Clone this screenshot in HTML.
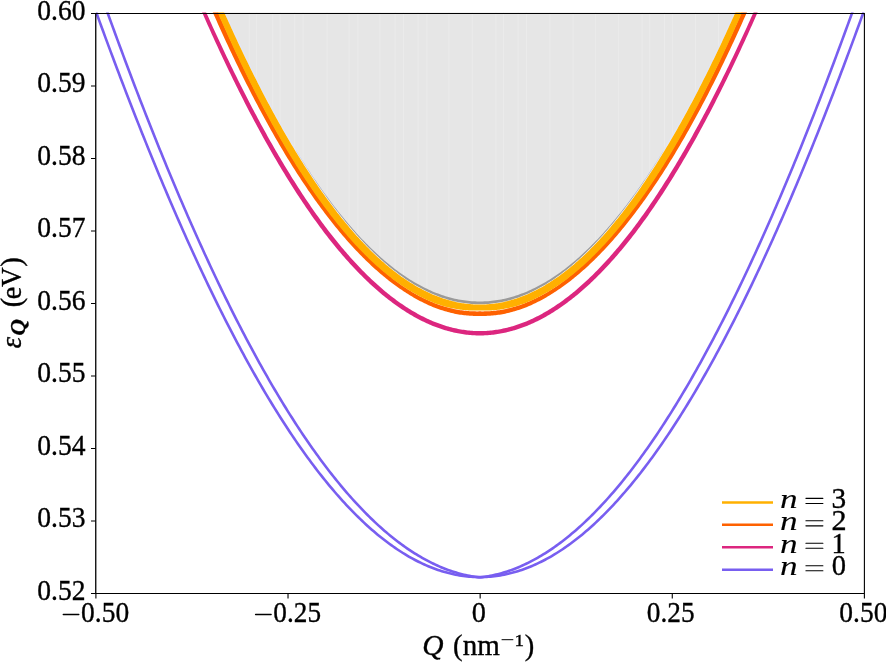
<!DOCTYPE html>
<html><head><meta charset="utf-8">
<style>
html,body{margin:0;padding:0;background:#fff;}
body{width:886px;height:662px;overflow:hidden;}
svg{display:block;}
text{font-family:"Liberation Serif",serif;fill:#000;}
</style></head>
<body>
<svg width="886" height="662" viewBox="0 0 886 662">
<defs><clipPath id="ax"><rect x="95.9" y="12.4" width="768.5" height="581"/></clipPath></defs>
<rect x="0" y="0" width="886" height="662" fill="#fff"/>
<g clip-path="url(#ax)">
<path d="M219.02,-1.23 L220.33,1.75 L221.64,4.72 L222.94,7.68 L224.25,10.62 L225.56,13.54 L226.87,16.46 L228.17,19.36 L229.48,22.24 L230.79,25.11 L232.10,27.97 L233.40,30.81 L234.71,33.64 L236.02,36.46 L237.32,39.26 L238.63,42.05 L239.94,44.82 L241.25,47.58 L242.55,50.33 L243.86,53.06 L245.17,55.78 L246.48,58.48 L247.78,61.17 L249.09,63.84 L250.40,66.50 L251.71,69.15 L253.01,71.78 L254.32,74.40 L255.63,77.00 L256.94,79.59 L258.24,82.17 L259.55,84.73 L260.86,87.27 L262.17,89.81 L263.47,92.32 L264.78,94.83 L266.09,97.32 L267.40,99.79 L268.70,102.25 L270.01,104.70 L271.32,107.13 L272.63,109.54 L273.93,111.95 L275.24,114.34 L276.55,116.71 L277.85,119.07 L279.16,121.41 L280.47,123.74 L281.78,126.06 L283.08,128.36 L284.39,130.65 L285.70,132.92 L287.01,135.17 L288.31,137.42 L289.62,139.64 L290.93,141.86 L292.24,144.06 L293.54,146.24 L294.85,148.41 L296.16,150.56 L297.47,152.70 L298.77,154.83 L300.08,156.94 L301.39,159.04 L302.70,161.12 L304.00,163.18 L305.31,165.24 L306.62,167.27 L307.93,169.29 L309.23,171.30 L310.54,173.29 L311.85,175.27 L313.15,177.23 L314.46,179.18 L315.77,181.11 L317.08,183.03 L318.38,184.94 L319.69,186.82 L321.00,188.70 L322.31,190.56 L323.61,192.40 L324.92,194.23 L326.23,196.04 L327.54,197.84 L328.84,199.62 L330.15,201.39 L331.46,203.15 L332.77,204.88 L334.07,206.61 L335.38,208.32 L336.69,210.01 L338.00,211.69 L339.30,213.35 L340.61,215.00 L341.92,216.64 L343.23,218.25 L344.53,219.86 L345.84,221.44 L347.15,223.02 L348.45,224.58 L349.76,226.12 L351.07,227.65 L352.38,229.16 L353.68,230.66 L354.99,232.14 L356.30,233.61 L357.61,235.06 L358.91,236.49 L360.22,237.92 L361.53,239.32 L362.84,240.71 L364.14,242.09 L365.45,243.45 L366.76,244.79 L368.07,246.13 L369.37,247.44 L370.68,248.74 L371.99,250.02 L373.30,251.29 L374.60,252.55 L375.91,253.79 L377.22,255.01 L378.53,256.22 L379.83,257.41 L381.14,258.59 L382.45,259.75 L383.76,260.90 L385.06,262.03 L386.37,263.14 L387.68,264.24 L388.98,265.33 L390.29,266.40 L391.60,267.45 L392.91,268.49 L394.21,269.52 L395.52,270.52 L396.83,271.52 L398.14,272.49 L399.44,273.46 L400.75,274.40 L402.06,275.34 L403.37,276.25 L404.67,277.15 L405.98,278.04 L407.29,278.91 L408.60,279.76 L409.90,280.60 L411.21,281.42 L412.52,282.23 L413.83,283.02 L415.13,283.80 L416.44,284.56 L417.75,285.31 L419.06,286.04 L420.36,286.75 L421.67,287.45 L422.98,288.14 L424.28,288.81 L425.59,289.46 L426.90,290.10 L428.21,290.72 L429.51,291.33 L430.82,291.92 L432.13,292.49 L433.44,293.05 L434.74,293.60 L436.05,294.13 L437.36,294.64 L438.67,295.14 L439.97,295.62 L441.28,296.09 L442.59,296.54 L443.90,296.97 L445.20,297.39 L446.51,297.80 L447.82,298.19 L449.13,298.56 L450.43,298.92 L451.74,299.26 L453.05,299.59 L454.36,299.90 L455.66,300.20 L456.97,300.48 L458.28,300.74 L459.59,300.99 L460.89,301.22 L462.20,301.44 L463.51,301.65 L464.81,301.83 L466.12,302.00 L467.43,302.16 L468.74,302.30 L470.04,302.42 L471.35,302.53 L472.66,302.63 L473.97,302.70 L475.27,302.77 L476.58,302.81 L477.89,302.84 L479.20,302.86 L480.50,302.86 L481.81,302.84 L483.12,302.81 L484.43,302.77 L485.73,302.70 L487.04,302.63 L488.35,302.53 L489.66,302.42 L490.96,302.30 L492.27,302.16 L493.58,302.00 L494.89,301.83 L496.19,301.65 L497.50,301.44 L498.81,301.22 L500.11,300.99 L501.42,300.74 L502.73,300.48 L504.04,300.20 L505.34,299.90 L506.65,299.59 L507.96,299.26 L509.27,298.92 L510.57,298.56 L511.88,298.19 L513.19,297.80 L514.50,297.39 L515.80,296.97 L517.11,296.54 L518.42,296.09 L519.73,295.62 L521.03,295.14 L522.34,294.64 L523.65,294.13 L524.96,293.60 L526.26,293.05 L527.57,292.49 L528.88,291.92 L530.19,291.33 L531.49,290.72 L532.80,290.10 L534.11,289.46 L535.42,288.81 L536.72,288.14 L538.03,287.45 L539.34,286.75 L540.64,286.04 L541.95,285.31 L543.26,284.56 L544.57,283.80 L545.87,283.02 L547.18,282.23 L548.49,281.42 L549.80,280.60 L551.10,279.76 L552.41,278.91 L553.72,278.04 L555.03,277.15 L556.33,276.25 L557.64,275.34 L558.95,274.40 L560.26,273.46 L561.56,272.49 L562.87,271.52 L564.18,270.52 L565.49,269.52 L566.79,268.49 L568.10,267.45 L569.41,266.40 L570.72,265.33 L572.02,264.24 L573.33,263.14 L574.64,262.03 L575.94,260.90 L577.25,259.75 L578.56,258.59 L579.87,257.41 L581.17,256.22 L582.48,255.01 L583.79,253.79 L585.10,252.55 L586.40,251.29 L587.71,250.02 L589.02,248.74 L590.33,247.44 L591.63,246.13 L592.94,244.79 L594.25,243.45 L595.56,242.09 L596.86,240.71 L598.17,239.32 L599.48,237.92 L600.79,236.49 L602.09,235.06 L603.40,233.61 L604.71,232.14 L606.02,230.66 L607.32,229.16 L608.63,227.65 L609.94,226.12 L611.25,224.58 L612.55,223.02 L613.86,221.44 L615.17,219.86 L616.47,218.25 L617.78,216.64 L619.09,215.00 L620.40,213.35 L621.70,211.69 L623.01,210.01 L624.32,208.32 L625.63,206.61 L626.93,204.88 L628.24,203.15 L629.55,201.39 L630.86,199.62 L632.16,197.84 L633.47,196.04 L634.78,194.23 L636.09,192.40 L637.39,190.56 L638.70,188.70 L640.01,186.82 L641.32,184.94 L642.62,183.03 L643.93,181.11 L645.24,179.18 L646.55,177.23 L647.85,175.27 L649.16,173.29 L650.47,171.30 L651.77,169.29 L653.08,167.27 L654.39,165.24 L655.70,163.18 L657.00,161.12 L658.31,159.04 L659.62,156.94 L660.93,154.83 L662.23,152.70 L663.54,150.56 L664.85,148.41 L666.16,146.24 L667.46,144.06 L668.77,141.86 L670.08,139.64 L671.39,137.42 L672.69,135.17 L674.00,132.92 L675.31,130.65 L676.62,128.36 L677.92,126.06 L679.23,123.74 L680.54,121.41 L681.85,119.07 L683.15,116.71 L684.46,114.34 L685.77,111.95 L687.07,109.54 L688.38,107.13 L689.69,104.70 L691.00,102.25 L692.30,99.79 L693.61,97.32 L694.92,94.83 L696.23,92.32 L697.53,89.81 L698.84,87.27 L700.15,84.73 L701.46,82.17 L702.76,79.59 L704.07,77.00 L705.38,74.40 L706.69,71.78 L707.99,69.15 L709.30,66.50 L710.61,63.84 L711.92,61.17 L713.22,58.48 L714.53,55.78 L715.84,53.06 L717.15,50.33 L718.45,47.58 L719.76,44.82 L721.07,42.05 L722.38,39.26 L723.68,36.46 L724.99,33.64 L726.30,30.81 L727.60,27.97 L728.91,25.11 L730.22,22.24 L731.53,19.36 L732.83,16.46 L734.14,13.54 L735.45,10.62 L736.76,7.68 L738.06,4.72 L739.37,1.75 L740.68,-1.23 L740.68,5.00 L219.02,5.00 Z" fill="#e6e6e6" stroke="none"/>
<path d="M249.3,12 V63.1 M256.7,12 V77.9 M272.8,12 V108.7 M280.2,12 V122.1 M294.8,12 V147.1 M303.0,12 V160.4 M327.1,12 V196.0 M349.1,12 V224.1 M357.9,12 V234.2 M379.9,12 V256.3 M395.2,12 V269.1 M403.4,12 V275.1 M418.1,12 V284.3 M426.9,12 V288.9 M448.9,12 V297.3 M472.3,12 V301.4 M495.9,12 V300.5 M503.5,12 V299.1 M518.2,12 V295.0 M526.4,12 V291.8 M549.9,12 V279.3 M573.0,12 V262.2 M595.6,12 V240.8 M618.7,12 V214.3 M642.2,12 V182.4 M649.8,12 V171.1 M664.5,12 V147.8 M672.7,12 V134.0 M695.5,12 V92.5 M718.4,12 V46.5" stroke="#ebebeb" stroke-width="1" fill="none"/>
<path d="M91.37,-1.13 L93.32,4.29 L95.27,9.68 L97.22,15.06 L99.16,20.41 L101.11,25.75 L103.06,31.06 L105.00,36.35 L106.95,41.63 L108.90,46.88 L110.85,52.11 L112.79,57.32 L114.74,62.51 L116.69,67.68 L118.63,72.83 L120.58,77.96 L122.53,83.07 L124.48,88.15 L126.42,93.21 L128.37,98.25 L130.32,103.27 L132.27,108.27 L134.21,113.24 L136.16,118.20 L138.11,123.13 L140.05,128.04 L142.00,132.92 L143.95,137.79 L145.90,142.63 L147.84,147.45 L149.79,152.24 L151.74,157.02 L153.69,161.77 L155.63,166.50 L157.58,171.20 L159.53,175.88 L161.47,180.54 L163.42,185.17 L165.37,189.78 L167.32,194.37 L169.26,198.93 L171.21,203.47 L173.16,207.99 L175.11,212.48 L177.05,216.95 L179.00,221.39 L180.95,225.81 L182.89,230.21 L184.84,234.58 L186.79,238.92 L188.74,243.25 L190.68,247.54 L192.63,251.81 L194.58,256.06 L196.52,260.28 L198.47,264.48 L200.42,268.66 L202.37,272.80 L204.31,276.92 L206.26,281.02 L208.21,285.09 L210.16,289.14 L212.10,293.16 L214.05,297.16 L216.00,301.12 L217.94,305.07 L219.89,308.99 L221.84,312.88 L223.79,316.74 L225.73,320.58 L227.68,324.40 L229.63,328.18 L231.58,331.95 L233.52,335.68 L235.47,339.39 L237.42,343.07 L239.36,346.73 L241.31,350.35 L243.26,353.96 L245.21,357.53 L247.15,361.08 L249.10,364.60 L251.05,368.10 L253.00,371.56 L254.94,375.00 L256.89,378.42 L258.84,381.80 L260.78,385.16 L262.73,388.49 L264.68,391.80 L266.63,395.07 L268.57,398.32 L270.52,401.54 L272.47,404.74 L274.41,407.90 L276.36,411.04 L278.31,414.15 L280.26,417.23 L282.20,420.29 L284.15,423.31 L286.10,426.31 L288.05,429.28 L289.99,432.22 L291.94,435.14 L293.89,438.02 L295.83,440.88 L297.78,443.71 L299.73,446.51 L301.68,449.28 L303.62,452.02 L305.57,454.74 L307.52,457.42 L309.47,460.08 L311.41,462.71 L313.36,465.31 L315.31,467.88 L317.25,470.42 L319.20,472.93 L321.15,475.41 L323.10,477.87 L325.04,480.29 L326.99,482.69 L328.94,485.06 L330.89,487.40 L332.83,489.70 L334.78,491.98 L336.73,494.23 L338.67,496.45 L340.62,498.65 L342.57,500.81 L344.52,502.94 L346.46,505.04 L348.41,507.12 L350.36,509.16 L352.31,511.17 L354.25,513.16 L356.20,515.11 L358.15,517.03 L360.09,518.93 L362.04,520.79 L363.99,522.63 L365.94,524.43 L367.88,526.21 L369.83,527.95 L371.78,529.67 L373.72,531.35 L375.67,533.01 L377.62,534.63 L379.57,536.23 L381.51,537.79 L383.46,539.33 L385.41,540.83 L387.36,542.30 L389.30,543.75 L391.25,545.16 L393.20,546.54 L395.14,547.90 L397.09,549.22 L399.04,550.51 L400.99,551.77 L402.93,553.00 L404.88,554.20 L406.83,555.37 L408.78,556.51 L410.72,557.62 L412.67,558.70 L414.62,559.74 L416.56,560.76 L418.51,561.75 L420.46,562.70 L422.41,563.63 L424.35,564.52 L426.30,565.39 L428.25,566.22 L430.20,567.02 L432.14,567.79 L434.09,568.53 L436.04,569.24 L437.98,569.92 L439.93,570.57 L441.88,571.19 L443.83,571.78 L445.77,572.33 L447.72,572.86 L449.67,573.35 L451.61,573.81 L453.56,574.25 L455.51,574.65 L457.46,575.02 L459.40,575.36 L461.35,575.67 L463.30,575.95 L465.25,576.19 L467.19,576.41 L469.14,576.60 L471.09,576.75 L473.03,576.87 L474.98,576.97 L476.93,577.03 L478.88,577.06 L480.82,577.06 L482.77,577.03 L484.72,576.97 L486.67,576.87 L488.61,576.75 L490.56,576.60 L492.51,576.41 L494.45,576.19 L496.40,575.95 L498.35,575.67 L500.30,575.36 L502.24,575.02 L504.19,574.65 L506.14,574.25 L508.09,573.81 L510.03,573.35 L511.98,572.86 L513.93,572.33 L515.87,571.78 L517.82,571.19 L519.77,570.57 L521.72,569.92 L523.66,569.24 L525.61,568.53 L527.56,567.79 L529.50,567.02 L531.45,566.22 L533.40,565.39 L535.35,564.52 L537.29,563.63 L539.24,562.70 L541.19,561.75 L543.14,560.76 L545.08,559.74 L547.03,558.70 L548.98,557.62 L550.92,556.51 L552.87,555.37 L554.82,554.20 L556.77,553.00 L558.71,551.77 L560.66,550.51 L562.61,549.22 L564.56,547.90 L566.50,546.54 L568.45,545.16 L570.40,543.75 L572.34,542.30 L574.29,540.83 L576.24,539.33 L578.19,537.79 L580.13,536.23 L582.08,534.63 L584.03,533.01 L585.98,531.35 L587.92,529.67 L589.87,527.95 L591.82,526.21 L593.76,524.43 L595.71,522.63 L597.66,520.79 L599.61,518.93 L601.55,517.03 L603.50,515.11 L605.45,513.16 L607.39,511.17 L609.34,509.16 L611.29,507.12 L613.24,505.04 L615.18,502.94 L617.13,500.81 L619.08,498.65 L621.03,496.45 L622.97,494.23 L624.92,491.98 L626.87,489.70 L628.81,487.40 L630.76,485.06 L632.71,482.69 L634.66,480.29 L636.60,477.87 L638.55,475.41 L640.50,472.93 L642.45,470.42 L644.39,467.88 L646.34,465.31 L648.29,462.71 L650.23,460.08 L652.18,457.42 L654.13,454.74 L656.08,452.02 L658.02,449.28 L659.97,446.51 L661.92,443.71 L663.87,440.88 L665.81,438.02 L667.76,435.14 L669.71,432.22 L671.65,429.28 L673.60,426.31 L675.55,423.31 L677.50,420.29 L679.44,417.23 L681.39,414.15 L683.34,411.04 L685.29,407.90 L687.23,404.74 L689.18,401.54 L691.13,398.32 L693.07,395.07 L695.02,391.80 L696.97,388.49 L698.92,385.16 L700.86,381.80 L702.81,378.42 L704.76,375.00 L706.70,371.56 L708.65,368.10 L710.60,364.60 L712.55,361.08 L714.49,357.53 L716.44,353.96 L718.39,350.35 L720.34,346.73 L722.28,343.07 L724.23,339.39 L726.18,335.68 L728.12,331.95 L730.07,328.18 L732.02,324.40 L733.97,320.58 L735.91,316.74 L737.86,312.88 L739.81,308.99 L741.76,305.07 L743.70,301.12 L745.65,297.16 L747.60,293.16 L749.54,289.14 L751.49,285.09 L753.44,281.02 L755.39,276.92 L757.33,272.80 L759.28,268.66 L761.23,264.48 L763.18,260.28 L765.12,256.06 L767.07,251.81 L769.02,247.54 L770.96,243.25 L772.91,238.92 L774.86,234.58 L776.81,230.21 L778.75,225.81 L780.70,221.39 L782.65,216.95 L784.59,212.48 L786.54,207.99 L788.49,203.47 L790.44,198.93 L792.38,194.37 L794.33,189.78 L796.28,185.17 L798.23,180.54 L800.17,175.88 L802.12,171.20 L804.07,166.50 L806.01,161.77 L807.96,157.02 L809.91,152.24 L811.86,147.45 L813.80,142.63 L815.75,137.79 L817.70,132.92 L819.65,128.04 L821.59,123.13 L823.54,118.20 L825.49,113.24 L827.43,108.27 L829.38,103.27 L831.33,98.25 L833.28,93.21 L835.22,88.15 L837.17,83.07 L839.12,77.96 L841.07,72.83 L843.01,67.68 L844.96,62.51 L846.91,57.32 L848.85,52.11 L850.80,46.88 L852.75,41.63 L854.70,36.35 L856.64,31.06 L858.59,25.75 L860.54,20.41 L862.48,15.06 L864.43,9.68 L866.38,4.29 L868.33,-1.13" fill="none" stroke="#785ef0" stroke-width="2.6" stroke-linejoin="round"/>
<path d="M102.52,-1.28 L104.41,3.99 L106.30,9.25 L108.19,14.48 L110.08,19.70 L111.97,24.89 L113.86,30.07 L115.76,35.22 L117.65,40.36 L119.54,45.48 L121.43,50.57 L123.32,55.65 L125.21,60.71 L127.10,65.74 L129.00,70.76 L130.89,75.75 L132.78,80.73 L134.67,85.68 L136.56,90.61 L138.45,95.53 L140.34,100.42 L142.24,105.29 L144.13,110.14 L146.02,114.96 L147.91,119.77 L149.80,124.56 L151.69,129.32 L153.58,134.06 L155.48,138.78 L157.37,143.48 L159.26,148.16 L161.15,152.82 L163.04,157.45 L164.93,162.06 L166.82,166.65 L168.72,171.22 L170.61,175.76 L172.50,180.29 L174.39,184.79 L176.28,189.27 L178.17,193.72 L180.06,198.16 L181.96,202.57 L183.85,206.96 L185.74,211.32 L187.63,215.66 L189.52,219.98 L191.41,224.28 L193.30,228.55 L195.19,232.80 L197.09,237.03 L198.98,241.23 L200.87,245.41 L202.76,249.57 L204.65,253.70 L206.54,257.81 L208.43,261.90 L210.33,265.96 L212.22,270.00 L214.11,274.01 L216.00,278.00 L217.89,281.97 L219.78,285.91 L221.67,289.83 L223.57,293.73 L225.46,297.60 L227.35,301.44 L229.24,305.26 L231.13,309.06 L233.02,312.83 L234.91,316.58 L236.81,320.30 L238.70,324.00 L240.59,327.68 L242.48,331.33 L244.37,334.95 L246.26,338.55 L248.15,342.12 L250.05,345.67 L251.94,349.20 L253.83,352.70 L255.72,356.17 L257.61,359.62 L259.50,363.04 L261.39,366.44 L263.29,369.81 L265.18,373.16 L267.07,376.48 L268.96,379.78 L270.85,383.05 L272.74,386.29 L274.63,389.51 L276.52,392.70 L278.42,395.87 L280.31,399.01 L282.20,402.13 L284.09,405.22 L285.98,408.28 L287.87,411.32 L289.76,414.33 L291.66,417.31 L293.55,420.27 L295.44,423.21 L297.33,426.11 L299.22,428.99 L301.11,431.85 L303.00,434.67 L304.90,437.47 L306.79,440.25 L308.68,442.99 L310.57,445.72 L312.46,448.41 L314.35,451.08 L316.24,453.72 L318.14,456.33 L320.03,458.92 L321.92,461.48 L323.81,464.01 L325.70,466.52 L327.59,469.00 L329.48,471.45 L331.38,473.87 L333.27,476.27 L335.16,478.64 L337.05,480.99 L338.94,483.30 L340.83,485.59 L342.72,487.85 L344.62,490.09 L346.51,492.30 L348.40,494.48 L350.29,496.63 L352.18,498.75 L354.07,500.85 L355.96,502.92 L357.85,504.96 L359.75,506.98 L361.64,508.97 L363.53,510.93 L365.42,512.86 L367.31,514.76 L369.20,516.64 L371.09,518.49 L372.99,520.31 L374.88,522.10 L376.77,523.87 L378.66,525.61 L380.55,527.31 L382.44,529.00 L384.33,530.65 L386.23,532.28 L388.12,533.87 L390.01,535.44 L391.90,536.99 L393.79,538.50 L395.68,539.99 L397.57,541.44 L399.47,542.87 L401.36,544.28 L403.25,545.65 L405.14,546.99 L407.03,548.31 L408.92,549.60 L410.81,550.86 L412.71,552.09 L414.60,553.30 L416.49,554.47 L418.38,555.62 L420.27,556.74 L422.16,557.83 L424.05,558.89 L425.95,559.93 L427.84,560.93 L429.73,561.91 L431.62,562.86 L433.51,563.78 L435.40,564.67 L437.29,565.54 L439.18,566.37 L441.08,567.18 L442.97,567.96 L444.86,568.71 L446.75,569.43 L448.64,570.12 L450.53,570.79 L452.42,571.42 L454.32,572.03 L456.21,572.61 L458.10,573.16 L459.99,573.68 L461.88,574.18 L463.77,574.64 L465.66,575.08 L467.56,575.49 L469.45,575.87 L471.34,576.22 L473.23,576.54 L475.12,576.83 L477.01,577.10 L478.90,577.34 L480.80,577.34 L482.69,577.10 L484.58,576.83 L486.47,576.54 L488.36,576.22 L490.25,575.87 L492.14,575.49 L494.04,575.08 L495.93,574.64 L497.82,574.18 L499.71,573.68 L501.60,573.16 L503.49,572.61 L505.38,572.03 L507.28,571.42 L509.17,570.79 L511.06,570.12 L512.95,569.43 L514.84,568.71 L516.73,567.96 L518.62,567.18 L520.52,566.37 L522.41,565.54 L524.30,564.67 L526.19,563.78 L528.08,562.86 L529.97,561.91 L531.86,560.93 L533.75,559.93 L535.65,558.89 L537.54,557.83 L539.43,556.74 L541.32,555.62 L543.21,554.47 L545.10,553.30 L546.99,552.09 L548.89,550.86 L550.78,549.60 L552.67,548.31 L554.56,546.99 L556.45,545.65 L558.34,544.28 L560.23,542.87 L562.13,541.44 L564.02,539.99 L565.91,538.50 L567.80,536.99 L569.69,535.44 L571.58,533.87 L573.47,532.28 L575.37,530.65 L577.26,529.00 L579.15,527.31 L581.04,525.61 L582.93,523.87 L584.82,522.10 L586.71,520.31 L588.61,518.49 L590.50,516.64 L592.39,514.76 L594.28,512.86 L596.17,510.93 L598.06,508.97 L599.95,506.98 L601.85,504.96 L603.74,502.92 L605.63,500.85 L607.52,498.75 L609.41,496.63 L611.30,494.48 L613.19,492.30 L615.08,490.09 L616.98,487.85 L618.87,485.59 L620.76,483.30 L622.65,480.99 L624.54,478.64 L626.43,476.27 L628.32,473.87 L630.22,471.45 L632.11,469.00 L634.00,466.52 L635.89,464.01 L637.78,461.48 L639.67,458.92 L641.56,456.33 L643.46,453.72 L645.35,451.08 L647.24,448.41 L649.13,445.72 L651.02,442.99 L652.91,440.25 L654.80,437.47 L656.70,434.67 L658.59,431.85 L660.48,428.99 L662.37,426.11 L664.26,423.21 L666.15,420.27 L668.04,417.31 L669.94,414.33 L671.83,411.32 L673.72,408.28 L675.61,405.22 L677.50,402.13 L679.39,399.01 L681.28,395.87 L683.18,392.70 L685.07,389.51 L686.96,386.29 L688.85,383.05 L690.74,379.78 L692.63,376.48 L694.52,373.16 L696.41,369.81 L698.31,366.44 L700.20,363.04 L702.09,359.62 L703.98,356.17 L705.87,352.70 L707.76,349.20 L709.65,345.67 L711.55,342.12 L713.44,338.55 L715.33,334.95 L717.22,331.33 L719.11,327.68 L721.00,324.00 L722.89,320.30 L724.79,316.58 L726.68,312.83 L728.57,309.06 L730.46,305.26 L732.35,301.44 L734.24,297.60 L736.13,293.73 L738.03,289.83 L739.92,285.91 L741.81,281.97 L743.70,278.00 L745.59,274.01 L747.48,270.00 L749.37,265.96 L751.27,261.90 L753.16,257.81 L755.05,253.70 L756.94,249.57 L758.83,245.41 L760.72,241.23 L762.61,237.03 L764.51,232.80 L766.40,228.55 L768.29,224.28 L770.18,219.98 L772.07,215.66 L773.96,211.32 L775.85,206.96 L777.74,202.57 L779.64,198.16 L781.53,193.72 L783.42,189.27 L785.31,184.79 L787.20,180.29 L789.09,175.76 L790.98,171.22 L792.88,166.65 L794.77,162.06 L796.66,157.45 L798.55,152.82 L800.44,148.16 L802.33,143.48 L804.22,138.78 L806.12,134.06 L808.01,129.32 L809.90,124.56 L811.79,119.77 L813.68,114.96 L815.57,110.14 L817.46,105.29 L819.36,100.42 L821.25,95.53 L823.14,90.61 L825.03,85.68 L826.92,80.73 L828.81,75.75 L830.70,70.76 L832.60,65.74 L834.49,60.71 L836.38,55.65 L838.27,50.57 L840.16,45.48 L842.05,40.36 L843.94,35.22 L845.84,30.07 L847.73,24.89 L849.62,19.70 L851.51,14.48 L853.40,9.25 L855.29,3.99 L857.18,-1.28" fill="none" stroke="#785ef0" stroke-width="2.6" stroke-linejoin="round"/>
<path d="M219.02,-1.23 L220.33,1.75 L221.64,4.72 L222.94,7.68 L224.25,10.62 L225.56,13.54 L226.87,16.46 L228.17,19.36 L229.48,22.24 L230.79,25.11 L232.10,27.97 L233.40,30.81 L234.71,33.64 L236.02,36.46 L237.32,39.26 L238.63,42.05 L239.94,44.82 L241.25,47.58 L242.55,50.33 L243.86,53.06 L245.17,55.78 L246.48,58.48 L247.78,61.17 L249.09,63.84 L250.40,66.50 L251.71,69.15 L253.01,71.78 L254.32,74.40 L255.63,77.00 L256.94,79.59 L258.24,82.17 L259.55,84.73 L260.86,87.27 L262.17,89.81 L263.47,92.32 L264.78,94.83 L266.09,97.32 L267.40,99.79 L268.70,102.25 L270.01,104.70 L271.32,107.13 L272.63,109.54 L273.93,111.95 L275.24,114.34 L276.55,116.71 L277.85,119.07 L279.16,121.41 L280.47,123.74 L281.78,126.06 L283.08,128.36 L284.39,130.65 L285.70,132.92 L287.01,135.17 L288.31,137.42 L289.62,139.64 L290.93,141.86 L292.24,144.06 L293.54,146.24 L294.85,148.41 L296.16,150.56 L297.47,152.70 L298.77,154.83 L300.08,156.94 L301.39,159.04 L302.70,161.12 L304.00,163.18 L305.31,165.24 L306.62,167.27 L307.93,169.29 L309.23,171.30 L310.54,173.29 L311.85,175.27 L313.15,177.23 L314.46,179.18 L315.77,181.11 L317.08,183.03 L318.38,184.94 L319.69,186.82 L321.00,188.70 L322.31,190.56 L323.61,192.40 L324.92,194.23 L326.23,196.04 L327.54,197.84 L328.84,199.62 L330.15,201.39 L331.46,203.15 L332.77,204.88 L334.07,206.61 L335.38,208.32 L336.69,210.01 L338.00,211.69 L339.30,213.35 L340.61,215.00 L341.92,216.64 L343.23,218.25 L344.53,219.86 L345.84,221.44 L347.15,223.02 L348.45,224.58 L349.76,226.12 L351.07,227.65 L352.38,229.16 L353.68,230.66 L354.99,232.14 L356.30,233.61 L357.61,235.06 L358.91,236.49 L360.22,237.92 L361.53,239.32 L362.84,240.71 L364.14,242.09 L365.45,243.45 L366.76,244.79 L368.07,246.13 L369.37,247.44 L370.68,248.74 L371.99,250.02 L373.30,251.29 L374.60,252.55 L375.91,253.79 L377.22,255.01 L378.53,256.22 L379.83,257.41 L381.14,258.59 L382.45,259.75 L383.76,260.90 L385.06,262.03 L386.37,263.14 L387.68,264.24 L388.98,265.33 L390.29,266.40 L391.60,267.45 L392.91,268.49 L394.21,269.52 L395.52,270.52 L396.83,271.52 L398.14,272.49 L399.44,273.46 L400.75,274.40 L402.06,275.34 L403.37,276.25 L404.67,277.15 L405.98,278.04 L407.29,278.91 L408.60,279.76 L409.90,280.60 L411.21,281.42 L412.52,282.23 L413.83,283.02 L415.13,283.80 L416.44,284.56 L417.75,285.31 L419.06,286.04 L420.36,286.75 L421.67,287.45 L422.98,288.14 L424.28,288.81 L425.59,289.46 L426.90,290.10 L428.21,290.72 L429.51,291.33 L430.82,291.92 L432.13,292.49 L433.44,293.05 L434.74,293.60 L436.05,294.13 L437.36,294.64 L438.67,295.14 L439.97,295.62 L441.28,296.09 L442.59,296.54 L443.90,296.97 L445.20,297.39 L446.51,297.80 L447.82,298.19 L449.13,298.56 L450.43,298.92 L451.74,299.26 L453.05,299.59 L454.36,299.90 L455.66,300.20 L456.97,300.48 L458.28,300.74 L459.59,300.99 L460.89,301.22 L462.20,301.44 L463.51,301.65 L464.81,301.83 L466.12,302.00 L467.43,302.16 L468.74,302.30 L470.04,302.42 L471.35,302.53 L472.66,302.63 L473.97,302.70 L475.27,302.77 L476.58,302.81 L477.89,302.84 L479.20,302.86 L480.50,302.86 L481.81,302.84 L483.12,302.81 L484.43,302.77 L485.73,302.70 L487.04,302.63 L488.35,302.53 L489.66,302.42 L490.96,302.30 L492.27,302.16 L493.58,302.00 L494.89,301.83 L496.19,301.65 L497.50,301.44 L498.81,301.22 L500.11,300.99 L501.42,300.74 L502.73,300.48 L504.04,300.20 L505.34,299.90 L506.65,299.59 L507.96,299.26 L509.27,298.92 L510.57,298.56 L511.88,298.19 L513.19,297.80 L514.50,297.39 L515.80,296.97 L517.11,296.54 L518.42,296.09 L519.73,295.62 L521.03,295.14 L522.34,294.64 L523.65,294.13 L524.96,293.60 L526.26,293.05 L527.57,292.49 L528.88,291.92 L530.19,291.33 L531.49,290.72 L532.80,290.10 L534.11,289.46 L535.42,288.81 L536.72,288.14 L538.03,287.45 L539.34,286.75 L540.64,286.04 L541.95,285.31 L543.26,284.56 L544.57,283.80 L545.87,283.02 L547.18,282.23 L548.49,281.42 L549.80,280.60 L551.10,279.76 L552.41,278.91 L553.72,278.04 L555.03,277.15 L556.33,276.25 L557.64,275.34 L558.95,274.40 L560.26,273.46 L561.56,272.49 L562.87,271.52 L564.18,270.52 L565.49,269.52 L566.79,268.49 L568.10,267.45 L569.41,266.40 L570.72,265.33 L572.02,264.24 L573.33,263.14 L574.64,262.03 L575.94,260.90 L577.25,259.75 L578.56,258.59 L579.87,257.41 L581.17,256.22 L582.48,255.01 L583.79,253.79 L585.10,252.55 L586.40,251.29 L587.71,250.02 L589.02,248.74 L590.33,247.44 L591.63,246.13 L592.94,244.79 L594.25,243.45 L595.56,242.09 L596.86,240.71 L598.17,239.32 L599.48,237.92 L600.79,236.49 L602.09,235.06 L603.40,233.61 L604.71,232.14 L606.02,230.66 L607.32,229.16 L608.63,227.65 L609.94,226.12 L611.25,224.58 L612.55,223.02 L613.86,221.44 L615.17,219.86 L616.47,218.25 L617.78,216.64 L619.09,215.00 L620.40,213.35 L621.70,211.69 L623.01,210.01 L624.32,208.32 L625.63,206.61 L626.93,204.88 L628.24,203.15 L629.55,201.39 L630.86,199.62 L632.16,197.84 L633.47,196.04 L634.78,194.23 L636.09,192.40 L637.39,190.56 L638.70,188.70 L640.01,186.82 L641.32,184.94 L642.62,183.03 L643.93,181.11 L645.24,179.18 L646.55,177.23 L647.85,175.27 L649.16,173.29 L650.47,171.30 L651.77,169.29 L653.08,167.27 L654.39,165.24 L655.70,163.18 L657.00,161.12 L658.31,159.04 L659.62,156.94 L660.93,154.83 L662.23,152.70 L663.54,150.56 L664.85,148.41 L666.16,146.24 L667.46,144.06 L668.77,141.86 L670.08,139.64 L671.39,137.42 L672.69,135.17 L674.00,132.92 L675.31,130.65 L676.62,128.36 L677.92,126.06 L679.23,123.74 L680.54,121.41 L681.85,119.07 L683.15,116.71 L684.46,114.34 L685.77,111.95 L687.07,109.54 L688.38,107.13 L689.69,104.70 L691.00,102.25 L692.30,99.79 L693.61,97.32 L694.92,94.83 L696.23,92.32 L697.53,89.81 L698.84,87.27 L700.15,84.73 L701.46,82.17 L702.76,79.59 L704.07,77.00 L705.38,74.40 L706.69,71.78 L707.99,69.15 L709.30,66.50 L710.61,63.84 L711.92,61.17 L713.22,58.48 L714.53,55.78 L715.84,53.06 L717.15,50.33 L718.45,47.58 L719.76,44.82 L721.07,42.05 L722.38,39.26 L723.68,36.46 L724.99,33.64 L726.30,30.81 L727.60,27.97 L728.91,25.11 L730.22,22.24 L731.53,19.36 L732.83,16.46 L734.14,13.54 L735.45,10.62 L736.76,7.68 L738.06,4.72 L739.37,1.75 L740.68,-1.23" fill="none" stroke="#e1e6f4" stroke-width="1.4"/>
<path d="M295.41,149.33 L297.26,152.35 L299.12,155.33 L300.97,158.29 L302.82,161.21 L304.68,164.11 L306.53,166.97 L308.39,169.81 L310.24,172.62 L312.09,175.40 L313.95,178.15 L315.80,180.87 L317.65,183.56 L319.51,186.22 L321.36,188.85 L323.22,191.45 L325.07,194.02 L326.92,196.56 L328.78,199.07 L330.63,201.55 L332.48,204.00 L334.34,206.43 L336.19,208.82 L338.04,211.18 L339.90,213.51 L341.75,215.81 L343.61,218.08 L345.46,220.33 L347.31,222.54 L349.17,224.72 L351.02,226.87 L352.87,228.99 L354.73,231.08 L356.58,233.14 L358.43,235.18 L360.29,237.18 L362.14,239.15 L364.00,241.09 L365.85,243.00 L367.70,244.87 L369.56,246.72 L371.41,248.54 L373.26,250.33 L375.12,252.09 L376.97,253.81 L378.83,255.51 L380.68,257.18 L382.53,258.81 L384.39,260.42 L386.24,261.99 L388.09,263.54 L389.95,265.05 L391.80,266.53 L393.65,267.99 L395.51,269.41 L397.36,270.80 L399.22,272.16 L401.07,273.49 L402.92,274.79 L404.78,276.05 L406.63,277.29 L408.48,278.50 L410.34,279.67 L412.19,280.82 L414.04,281.93 L415.90,283.02 L417.75,284.07 L419.61,285.09 L421.46,286.08 L423.31,287.04 L425.17,287.97 L427.02,288.87 L428.87,289.74 L430.73,290.57 L432.58,291.38 L434.44,292.15 L436.29,292.90 L438.14,293.61 L440.00,294.29 L441.85,294.94 L443.70,295.56 L445.56,296.15 L447.41,296.71 L449.26,297.24 L451.12,297.74 L452.97,298.20 L454.83,298.63 L456.68,299.04 L458.53,299.41 L460.39,299.75 L462.24,300.06 L464.09,300.34 L465.95,300.59 L467.80,300.81 L469.65,300.99 L471.51,301.15 L473.36,301.27 L475.22,301.36 L477.07,301.43 L478.92,301.46 L480.78,301.46 L482.63,301.43 L484.48,301.36 L486.34,301.27 L488.19,301.15 L490.05,300.99 L491.90,300.81 L493.75,300.59 L495.61,300.34 L497.46,300.06 L499.31,299.75 L501.17,299.41 L503.02,299.04 L504.87,298.63 L506.73,298.20 L508.58,297.74 L510.44,297.24 L512.29,296.71 L514.14,296.15 L516.00,295.56 L517.85,294.94 L519.70,294.29 L521.56,293.61 L523.41,292.90 L525.26,292.15 L527.12,291.38 L528.97,290.57 L530.83,289.74 L532.68,288.87 L534.53,287.97 L536.39,287.04 L538.24,286.08 L540.09,285.09 L541.95,284.07 L543.80,283.02 L545.66,281.93 L547.51,280.82 L549.36,279.67 L551.22,278.50 L553.07,277.29 L554.92,276.05 L556.78,274.79 L558.63,273.49 L560.48,272.16 L562.34,270.80 L564.19,269.41 L566.05,267.99 L567.90,266.53 L569.75,265.05 L571.61,263.54 L573.46,261.99 L575.31,260.42 L577.17,258.81 L579.02,257.18 L580.87,255.51 L582.73,253.81 L584.58,252.09 L586.44,250.33 L588.29,248.54 L590.14,246.72 L592.00,244.87 L593.85,243.00 L595.70,241.09 L597.56,239.15 L599.41,237.18 L601.27,235.18 L603.12,233.14 L604.97,231.08 L606.83,228.99 L608.68,226.87 L610.53,224.72 L612.39,222.54 L614.24,220.33 L616.09,218.08 L617.95,215.81 L619.80,213.51 L621.66,211.18 L623.51,208.82 L625.36,206.43 L627.22,204.00 L629.07,201.55 L630.92,199.07 L632.78,196.56 L634.63,194.02 L636.48,191.45 L638.34,188.85 L640.19,186.22 L642.05,183.56 L643.90,180.87 L645.75,178.15 L647.61,175.40 L649.46,172.62 L651.31,169.81 L653.17,166.97 L655.02,164.11 L656.88,161.21 L658.73,158.29 L660.58,155.33 L662.44,152.35 L664.29,149.33 L664.29,149.33 L662.44,152.40 L660.58,155.44 L658.73,158.45 L656.88,161.43 L655.02,164.38 L653.17,167.30 L651.31,170.19 L649.46,173.05 L647.61,175.88 L645.75,178.68 L643.90,181.45 L642.05,184.19 L640.19,186.90 L638.34,189.58 L636.48,192.23 L634.63,194.85 L632.78,197.43 L630.92,199.99 L629.07,202.52 L627.22,205.02 L625.36,207.48 L623.51,209.92 L621.66,212.32 L619.80,214.70 L617.95,217.04 L616.09,219.36 L614.24,221.64 L612.39,223.89 L610.53,226.11 L608.68,228.31 L606.83,230.47 L604.97,232.60 L603.12,234.69 L601.27,236.76 L599.41,238.80 L597.56,240.81 L595.70,242.78 L593.85,244.73 L592.00,246.64 L590.14,248.52 L588.29,250.37 L586.44,252.19 L584.58,253.98 L582.73,255.74 L580.87,257.47 L579.02,259.17 L577.17,260.83 L575.31,262.47 L573.46,264.07 L571.61,265.64 L569.75,267.18 L567.90,268.69 L566.05,270.17 L564.19,271.62 L562.34,273.04 L560.48,274.42 L558.63,275.78 L556.78,277.10 L554.92,278.39 L553.07,279.65 L551.22,280.88 L549.36,282.08 L547.51,283.24 L545.66,284.38 L543.80,285.48 L541.95,286.55 L540.09,287.59 L538.24,288.60 L536.39,289.58 L534.53,290.53 L532.68,291.44 L530.83,292.32 L528.97,293.18 L527.12,294.00 L525.26,294.78 L523.41,295.54 L521.56,296.27 L519.70,296.96 L517.85,297.63 L516.00,298.26 L514.14,298.86 L512.29,299.43 L510.44,299.96 L508.58,300.47 L506.73,300.94 L504.87,301.38 L503.02,301.79 L501.17,302.17 L499.31,302.52 L497.46,302.84 L495.61,303.12 L493.75,303.37 L491.90,303.59 L490.05,303.78 L488.19,303.94 L486.34,304.07 L484.48,304.16 L482.63,304.23 L480.78,304.26 L478.92,304.26 L477.07,304.23 L475.22,304.16 L473.36,304.07 L471.51,303.94 L469.65,303.78 L467.80,303.59 L465.95,303.37 L464.09,303.12 L462.24,302.84 L460.39,302.52 L458.53,302.17 L456.68,301.79 L454.83,301.38 L452.97,300.94 L451.12,300.47 L449.26,299.96 L447.41,299.43 L445.56,298.86 L443.70,298.26 L441.85,297.63 L440.00,296.96 L438.14,296.27 L436.29,295.54 L434.44,294.78 L432.58,294.00 L430.73,293.18 L428.87,292.32 L427.02,291.44 L425.17,290.53 L423.31,289.58 L421.46,288.60 L419.61,287.59 L417.75,286.55 L415.90,285.48 L414.04,284.38 L412.19,283.24 L410.34,282.08 L408.48,280.88 L406.63,279.65 L404.78,278.39 L402.92,277.10 L401.07,275.78 L399.22,274.42 L397.36,273.04 L395.51,271.62 L393.65,270.17 L391.80,268.69 L389.95,267.18 L388.09,265.64 L386.24,264.07 L384.39,262.47 L382.53,260.83 L380.68,259.17 L378.83,257.47 L376.97,255.74 L375.12,253.98 L373.26,252.19 L371.41,250.37 L369.56,248.52 L367.70,246.64 L365.85,244.73 L364.00,242.78 L362.14,240.81 L360.29,238.80 L358.43,236.76 L356.58,234.69 L354.73,232.60 L352.87,230.47 L351.02,228.31 L349.17,226.11 L347.31,223.89 L345.46,221.64 L343.61,219.36 L341.75,217.04 L339.90,214.70 L338.04,212.32 L336.19,209.92 L334.34,207.48 L332.48,205.02 L330.63,202.52 L328.78,199.99 L326.92,197.43 L325.07,194.85 L323.22,192.23 L321.36,189.58 L319.51,186.90 L317.65,184.19 L315.80,181.45 L313.95,178.68 L312.09,175.88 L310.24,173.05 L308.39,170.19 L306.53,167.30 L304.68,164.38 L302.82,161.43 L300.97,158.45 L299.12,155.44 L297.26,152.40 L295.41,149.33 Z" fill="#9a9a9a" stroke="none"/>
<path d="M196.27,-1.00 L197.69,2.30 L199.12,5.57 L200.54,8.84 L201.96,12.08 L203.38,15.31 L204.80,18.53 L206.22,21.74 L207.64,24.93 L209.07,28.11 L210.49,31.26 L211.91,34.41 L213.33,37.54 L214.75,40.65 L216.17,43.75 L217.60,46.83 L219.02,49.89 L220.44,52.95 L221.86,55.98 L223.28,59.00 L224.70,62.00 L226.12,64.99 L227.55,67.96 L228.97,70.92 L230.39,73.86 L231.81,76.79 L233.23,79.70 L234.65,82.59 L236.07,85.47 L237.50,88.33 L238.92,91.18 L240.34,94.01 L241.76,96.82 L243.18,99.62 L244.60,102.41 L246.02,105.17 L247.45,107.92 L248.87,110.66 L250.29,113.38 L251.71,116.08 L253.13,118.77 L254.55,121.45 L255.97,124.10 L257.40,126.74 L258.82,129.37 L260.24,131.97 L261.66,134.57 L263.08,137.14 L264.50,139.70 L265.92,142.25 L267.35,144.78 L268.77,147.29 L270.19,149.79 L271.61,152.27 L273.03,154.73 L274.45,157.18 L275.87,159.61 L277.30,162.02 L278.72,164.42 L280.14,166.81 L281.56,169.18 L282.98,171.53 L284.40,173.86 L285.82,176.18 L287.25,178.48 L288.67,180.77 L290.09,183.04 L291.51,185.29 L292.93,187.53 L294.35,189.75 L295.77,191.96 L297.20,194.15 L298.62,196.32 L300.04,198.47 L301.46,200.61 L302.88,202.74 L304.30,204.85 L305.72,206.94 L307.15,209.01 L308.57,211.07 L309.99,213.11 L311.41,215.14 L312.83,217.15 L314.25,219.14 L315.67,221.11 L317.10,223.07 L318.52,225.02 L319.94,226.94 L321.36,228.85 L322.78,230.75 L324.20,232.63 L325.62,234.49 L327.05,236.33 L328.47,238.14 L329.89,239.94 L331.31,241.73 L332.73,243.50 L334.15,245.25 L335.57,246.98 L337.00,248.70 L338.42,250.40 L339.84,252.09 L341.26,253.76 L342.68,255.41 L344.10,257.04 L345.52,258.66 L346.95,260.26 L348.37,261.85 L349.79,263.42 L351.21,264.97 L352.63,266.51 L354.05,268.03 L355.47,269.53 L356.90,271.01 L358.32,272.48 L359.74,273.94 L361.16,275.37 L362.58,276.79 L364.00,278.19 L365.42,279.58 L366.85,280.94 L368.27,282.29 L369.69,283.63 L371.11,284.95 L372.53,286.25 L373.95,287.53 L375.37,288.80 L376.80,290.05 L378.22,291.28 L379.64,292.50 L381.06,293.69 L382.48,294.88 L383.90,296.04 L385.32,297.19 L386.75,298.33 L388.17,299.44 L389.59,300.54 L391.01,301.62 L392.43,302.69 L393.85,303.74 L395.27,304.77 L396.70,305.78 L398.12,306.78 L399.54,307.76 L400.96,308.73 L402.38,309.67 L403.80,310.60 L405.22,311.52 L406.65,312.41 L408.07,313.29 L409.49,314.15 L410.91,314.99 L412.33,315.82 L413.75,316.63 L415.17,317.43 L416.60,318.20 L418.02,318.96 L419.44,319.71 L420.86,320.43 L422.28,321.14 L423.70,321.83 L425.12,322.51 L426.55,323.17 L427.97,323.81 L429.39,324.44 L430.81,325.04 L432.23,325.63 L433.65,326.21 L435.07,326.77 L436.50,327.31 L437.92,327.83 L439.34,328.33 L440.76,328.82 L442.18,329.29 L443.60,329.74 L445.02,330.18 L446.45,330.59 L447.87,330.99 L449.29,331.37 L450.71,331.74 L452.13,332.09 L453.55,332.42 L454.97,332.73 L456.40,333.03 L457.82,333.31 L459.24,333.57 L460.66,333.82 L462.08,334.05 L463.50,334.26 L464.92,334.46 L466.35,334.63 L467.77,334.80 L469.19,334.94 L470.61,335.07 L472.03,335.18 L473.45,335.27 L474.87,335.35 L476.30,335.41 L477.72,335.45 L479.14,335.48 L480.56,335.48 L481.98,335.45 L483.40,335.41 L484.83,335.35 L486.25,335.27 L487.67,335.18 L489.09,335.07 L490.51,334.94 L491.93,334.80 L493.35,334.63 L494.78,334.46 L496.20,334.26 L497.62,334.05 L499.04,333.82 L500.46,333.57 L501.88,333.31 L503.30,333.03 L504.73,332.73 L506.15,332.42 L507.57,332.09 L508.99,331.74 L510.41,331.37 L511.83,330.99 L513.25,330.59 L514.68,330.18 L516.10,329.74 L517.52,329.29 L518.94,328.82 L520.36,328.33 L521.78,327.83 L523.20,327.31 L524.63,326.77 L526.05,326.21 L527.47,325.63 L528.89,325.04 L530.31,324.44 L531.73,323.81 L533.15,323.17 L534.58,322.51 L536.00,321.83 L537.42,321.14 L538.84,320.43 L540.26,319.71 L541.68,318.96 L543.10,318.20 L544.53,317.43 L545.95,316.63 L547.37,315.82 L548.79,314.99 L550.21,314.15 L551.63,313.29 L553.05,312.41 L554.48,311.52 L555.90,310.60 L557.32,309.67 L558.74,308.73 L560.16,307.76 L561.58,306.78 L563.00,305.78 L564.43,304.77 L565.85,303.74 L567.27,302.69 L568.69,301.62 L570.11,300.54 L571.53,299.44 L572.95,298.33 L574.38,297.19 L575.80,296.04 L577.22,294.88 L578.64,293.69 L580.06,292.50 L581.48,291.28 L582.90,290.05 L584.33,288.80 L585.75,287.53 L587.17,286.25 L588.59,284.95 L590.01,283.63 L591.43,282.29 L592.85,280.94 L594.28,279.58 L595.70,278.19 L597.12,276.79 L598.54,275.37 L599.96,273.94 L601.38,272.48 L602.80,271.01 L604.23,269.53 L605.65,268.03 L607.07,266.51 L608.49,264.97 L609.91,263.42 L611.33,261.85 L612.75,260.26 L614.18,258.66 L615.60,257.04 L617.02,255.41 L618.44,253.76 L619.86,252.09 L621.28,250.40 L622.70,248.70 L624.13,246.98 L625.55,245.25 L626.97,243.50 L628.39,241.73 L629.81,239.94 L631.23,238.14 L632.65,236.33 L634.08,234.49 L635.50,232.63 L636.92,230.75 L638.34,228.85 L639.76,226.94 L641.18,225.02 L642.60,223.07 L644.03,221.11 L645.45,219.14 L646.87,217.15 L648.29,215.14 L649.71,213.11 L651.13,211.07 L652.55,209.01 L653.98,206.94 L655.40,204.85 L656.82,202.74 L658.24,200.61 L659.66,198.47 L661.08,196.32 L662.50,194.15 L663.93,191.96 L665.35,189.75 L666.77,187.53 L668.19,185.29 L669.61,183.04 L671.03,180.77 L672.45,178.48 L673.88,176.18 L675.30,173.86 L676.72,171.53 L678.14,169.18 L679.56,166.81 L680.98,164.42 L682.40,162.02 L683.83,159.61 L685.25,157.18 L686.67,154.73 L688.09,152.27 L689.51,149.79 L690.93,147.29 L692.35,144.78 L693.78,142.25 L695.20,139.70 L696.62,137.14 L698.04,134.57 L699.46,131.97 L700.88,129.37 L702.30,126.74 L703.73,124.10 L705.15,121.45 L706.57,118.77 L707.99,116.08 L709.41,113.38 L710.83,110.66 L712.25,107.92 L713.68,105.17 L715.10,102.41 L716.52,99.62 L717.94,96.82 L719.36,94.01 L720.78,91.18 L722.20,88.33 L723.63,85.47 L725.05,82.59 L726.47,79.70 L727.89,76.79 L729.31,73.86 L730.73,70.92 L732.15,67.96 L733.58,64.99 L735.00,62.00 L736.42,59.00 L737.84,55.98 L739.26,52.95 L740.68,49.89 L742.10,46.83 L743.53,43.75 L744.95,40.65 L746.37,37.54 L747.79,34.41 L749.21,31.26 L750.63,28.11 L752.06,24.93 L753.48,21.74 L754.90,18.53 L756.32,15.31 L757.74,12.08 L759.16,8.84 L760.58,5.57 L762.01,2.30 L763.43,-1.00 L759.43,-1.03 L758.03,2.15 L756.63,5.32 L755.23,8.48 L753.82,11.62 L752.42,14.75 L751.02,17.87 L749.62,20.98 L748.22,24.07 L746.82,27.15 L745.42,30.21 L744.01,33.26 L742.61,36.30 L741.21,39.32 L739.81,42.33 L738.41,45.33 L737.01,48.31 L735.61,51.27 L734.21,54.23 L732.80,57.17 L731.40,60.09 L730.00,63.00 L728.60,65.90 L727.20,68.78 L725.80,71.65 L724.40,74.50 L722.99,77.34 L721.59,80.17 L720.19,82.98 L718.79,85.77 L717.39,88.56 L715.99,91.32 L714.59,94.08 L713.18,96.82 L711.78,99.54 L710.38,102.25 L708.98,104.95 L707.58,107.63 L706.18,110.29 L704.78,112.94 L703.37,115.58 L701.97,118.20 L700.57,120.81 L699.17,123.40 L697.77,125.98 L696.37,128.54 L694.97,131.09 L693.56,133.62 L692.16,136.14 L690.76,138.64 L689.36,141.13 L687.96,143.60 L686.56,146.06 L685.16,148.50 L683.75,150.93 L682.35,153.34 L680.95,155.74 L679.55,158.12 L678.15,160.49 L676.75,162.84 L675.35,165.18 L673.94,167.50 L672.54,169.81 L671.14,172.10 L669.74,174.37 L668.34,176.63 L666.94,178.88 L665.54,181.10 L664.13,183.32 L662.73,185.52 L661.33,187.70 L659.93,189.87 L658.53,192.02 L657.13,194.15 L655.73,196.27 L654.32,198.38 L652.92,200.47 L651.52,202.54 L650.12,204.60 L648.72,206.64 L647.32,208.67 L645.92,210.68 L644.52,212.67 L643.11,214.65 L641.71,216.61 L640.31,218.56 L638.91,220.49 L637.51,222.41 L636.11,224.31 L634.71,226.19 L633.30,228.06 L631.90,229.90 L630.50,231.72 L629.10,233.53 L627.70,235.32 L626.30,237.10 L624.90,238.86 L623.49,240.61 L622.09,242.34 L620.69,244.05 L619.29,245.75 L617.89,247.43 L616.49,249.09 L615.09,250.74 L613.68,252.37 L612.28,253.99 L610.88,255.59 L609.48,257.17 L608.08,258.74 L606.68,260.29 L605.28,261.82 L603.87,263.34 L602.47,264.84 L601.07,266.33 L599.67,267.79 L598.27,269.25 L596.87,270.68 L595.47,272.10 L594.06,273.50 L592.66,274.89 L591.26,276.26 L589.86,277.61 L588.46,278.94 L587.06,280.26 L585.66,281.57 L584.25,282.85 L582.85,284.12 L581.45,285.37 L580.05,286.61 L578.65,287.83 L577.25,289.03 L575.85,290.22 L574.44,291.39 L573.04,292.54 L571.64,293.68 L570.24,294.80 L568.84,295.90 L567.44,296.99 L566.04,298.05 L564.64,299.11 L563.23,300.14 L561.83,301.16 L560.43,302.17 L559.03,303.15 L557.63,304.12 L556.23,305.07 L554.83,306.01 L553.42,306.92 L552.02,307.82 L550.62,308.71 L549.22,309.57 L547.82,310.42 L546.42,311.25 L545.02,312.07 L543.61,312.87 L542.21,313.65 L540.81,314.42 L539.41,315.17 L538.01,315.90 L536.61,316.61 L535.21,317.31 L533.80,317.99 L532.40,318.65 L531.00,319.30 L529.60,319.93 L528.20,320.54 L526.80,321.14 L525.40,321.72 L523.99,322.28 L522.59,322.82 L521.19,323.35 L519.79,323.86 L518.39,324.36 L516.99,324.83 L515.59,325.28 L514.18,325.72 L512.78,326.14 L511.38,326.55 L509.98,326.93 L508.58,327.30 L507.18,327.66 L505.78,327.99 L504.37,328.31 L502.97,328.61 L501.57,328.90 L500.17,329.16 L498.77,329.41 L497.37,329.65 L495.97,329.86 L494.56,330.06 L493.16,330.24 L491.76,330.41 L490.36,330.56 L488.96,330.69 L487.56,330.80 L486.16,330.90 L484.75,330.98 L483.35,331.04 L481.95,331.09 L480.55,331.11 L479.15,331.11 L477.75,331.09 L476.35,331.04 L474.95,330.98 L473.54,330.90 L472.14,330.80 L470.74,330.69 L469.34,330.56 L467.94,330.41 L466.54,330.24 L465.14,330.06 L463.73,329.86 L462.33,329.65 L460.93,329.41 L459.53,329.16 L458.13,328.90 L456.73,328.61 L455.33,328.31 L453.92,327.99 L452.52,327.66 L451.12,327.30 L449.72,326.93 L448.32,326.55 L446.92,326.14 L445.52,325.72 L444.11,325.28 L442.71,324.83 L441.31,324.36 L439.91,323.86 L438.51,323.35 L437.11,322.82 L435.71,322.28 L434.30,321.72 L432.90,321.14 L431.50,320.54 L430.10,319.93 L428.70,319.30 L427.30,318.65 L425.90,317.99 L424.49,317.31 L423.09,316.61 L421.69,315.90 L420.29,315.17 L418.89,314.42 L417.49,313.65 L416.09,312.87 L414.68,312.07 L413.28,311.25 L411.88,310.42 L410.48,309.57 L409.08,308.71 L407.68,307.82 L406.28,306.92 L404.87,306.01 L403.47,305.07 L402.07,304.12 L400.67,303.15 L399.27,302.17 L397.87,301.16 L396.47,300.14 L395.06,299.11 L393.66,298.05 L392.26,296.99 L390.86,295.90 L389.46,294.80 L388.06,293.68 L386.66,292.54 L385.26,291.39 L383.85,290.22 L382.45,289.03 L381.05,287.83 L379.65,286.61 L378.25,285.37 L376.85,284.12 L375.45,282.85 L374.04,281.57 L372.64,280.26 L371.24,278.94 L369.84,277.61 L368.44,276.26 L367.04,274.89 L365.64,273.50 L364.23,272.10 L362.83,270.68 L361.43,269.25 L360.03,267.79 L358.63,266.33 L357.23,264.84 L355.83,263.34 L354.42,261.82 L353.02,260.29 L351.62,258.74 L350.22,257.17 L348.82,255.59 L347.42,253.99 L346.02,252.37 L344.61,250.74 L343.21,249.09 L341.81,247.43 L340.41,245.75 L339.01,244.05 L337.61,242.34 L336.21,240.61 L334.80,238.86 L333.40,237.10 L332.00,235.32 L330.60,233.53 L329.20,231.72 L327.80,229.90 L326.40,228.06 L324.99,226.19 L323.59,224.31 L322.19,222.41 L320.79,220.49 L319.39,218.56 L317.99,216.61 L316.59,214.65 L315.18,212.67 L313.78,210.68 L312.38,208.67 L310.98,206.64 L309.58,204.60 L308.18,202.54 L306.78,200.47 L305.38,198.38 L303.97,196.27 L302.57,194.15 L301.17,192.02 L299.77,189.87 L298.37,187.70 L296.97,185.52 L295.57,183.32 L294.16,181.10 L292.76,178.88 L291.36,176.63 L289.96,174.37 L288.56,172.10 L287.16,169.81 L285.76,167.50 L284.35,165.18 L282.95,162.84 L281.55,160.49 L280.15,158.12 L278.75,155.74 L277.35,153.34 L275.95,150.93 L274.54,148.50 L273.14,146.06 L271.74,143.60 L270.34,141.13 L268.94,138.64 L267.54,136.14 L266.14,133.62 L264.73,131.09 L263.33,128.54 L261.93,125.98 L260.53,123.40 L259.13,120.81 L257.73,118.20 L256.33,115.58 L254.92,112.94 L253.52,110.29 L252.12,107.63 L250.72,104.95 L249.32,102.25 L247.92,99.54 L246.52,96.82 L245.11,94.08 L243.71,91.32 L242.31,88.56 L240.91,85.77 L239.51,82.98 L238.11,80.17 L236.71,77.34 L235.30,74.50 L233.90,71.65 L232.50,68.78 L231.10,65.90 L229.70,63.00 L228.30,60.09 L226.90,57.17 L225.49,54.23 L224.09,51.27 L222.69,48.31 L221.29,45.33 L219.89,42.33 L218.49,39.32 L217.09,36.30 L215.69,33.26 L214.28,30.21 L212.88,27.15 L211.48,24.07 L210.08,20.98 L208.68,17.87 L207.28,14.75 L205.88,11.62 L204.47,8.48 L203.07,5.32 L201.67,2.15 L200.27,-1.03 Z" fill="#dc267f" stroke="none"/>
<path d="M206.88,-1.27 L208.25,1.90 L209.62,5.05 L210.98,8.19 L212.35,11.31 L213.72,14.42 L215.09,17.51 L216.46,20.58 L217.83,23.64 L219.19,26.68 L220.56,29.71 L221.93,32.72 L223.30,35.71 L224.67,38.69 L226.03,41.65 L227.40,44.60 L228.77,47.53 L230.14,50.44 L231.51,53.34 L232.88,56.22 L234.24,59.09 L235.61,61.94 L236.98,64.77 L238.35,67.59 L239.72,70.39 L241.09,73.18 L242.45,75.95 L243.82,78.70 L245.19,81.44 L246.56,84.16 L247.93,86.87 L249.30,89.56 L250.66,92.23 L252.03,94.89 L253.40,97.53 L254.77,100.16 L256.14,102.77 L257.51,105.36 L258.87,107.94 L260.24,110.50 L261.61,113.05 L262.98,115.58 L264.35,118.09 L265.71,120.59 L267.08,123.07 L268.45,125.54 L269.82,127.99 L271.19,130.42 L272.56,132.84 L273.92,135.24 L275.29,137.63 L276.66,140.00 L278.03,142.36 L279.40,144.69 L280.77,147.02 L282.13,149.32 L283.50,151.61 L284.87,153.89 L286.24,156.15 L287.61,158.39 L288.98,160.62 L290.34,162.83 L291.71,165.03 L293.08,167.20 L294.45,169.37 L295.82,171.52 L297.19,173.65 L298.55,175.76 L299.92,177.86 L301.29,179.95 L302.66,182.01 L304.03,184.07 L305.39,186.10 L306.76,188.12 L308.13,190.13 L309.50,192.11 L310.87,194.09 L312.24,196.04 L313.60,197.98 L314.97,199.91 L316.34,201.82 L317.71,203.71 L319.08,205.59 L320.45,207.45 L321.81,209.29 L323.18,211.12 L324.55,212.94 L325.92,214.73 L327.29,216.52 L328.66,218.29 L330.02,220.05 L331.39,221.79 L332.76,223.52 L334.13,225.23 L335.50,226.92 L336.87,228.60 L338.23,230.26 L339.60,231.90 L340.97,233.53 L342.34,235.15 L343.71,236.74 L345.07,238.33 L346.44,239.89 L347.81,241.44 L349.18,242.98 L350.55,244.50 L351.92,246.00 L353.28,247.49 L354.65,248.96 L356.02,250.41 L357.39,251.85 L358.76,253.27 L360.13,254.68 L361.49,256.07 L362.86,257.45 L364.23,258.81 L365.60,260.16 L366.97,261.49 L368.34,262.80 L369.70,264.10 L371.07,265.39 L372.44,266.65 L373.81,267.91 L375.18,269.14 L376.55,270.36 L377.91,271.57 L379.28,272.76 L380.65,273.93 L382.02,275.09 L383.39,276.23 L384.75,277.35 L386.12,278.46 L387.49,279.56 L388.86,280.64 L390.23,281.70 L391.60,282.74 L392.96,283.77 L394.33,284.79 L395.70,285.79 L397.07,286.77 L398.44,287.74 L399.81,288.69 L401.17,289.62 L402.54,290.54 L403.91,291.45 L405.28,292.35 L406.65,293.22 L408.02,294.09 L409.38,294.93 L410.75,295.77 L412.12,296.58 L413.49,297.38 L414.86,298.16 L416.23,298.93 L417.59,299.68 L418.96,300.42 L420.33,301.14 L421.70,301.85 L423.07,302.54 L424.43,303.21 L425.80,303.87 L427.17,304.51 L428.54,305.13 L429.91,305.74 L431.28,306.34 L432.64,306.91 L434.01,307.47 L435.38,307.99 L436.75,308.50 L438.12,308.99 L439.49,309.47 L440.85,309.92 L442.22,310.37 L443.59,310.80 L444.96,311.21 L446.33,311.60 L447.70,311.98 L449.06,312.35 L450.43,312.70 L451.80,313.03 L453.17,313.34 L454.54,313.65 L455.91,313.93 L457.27,314.19 L458.64,314.42 L460.01,314.63 L461.38,314.83 L462.75,315.01 L464.11,315.18 L465.48,315.33 L466.85,315.47 L468.22,315.58 L469.59,315.69 L470.96,315.77 L472.32,315.85 L473.69,315.90 L475.06,315.94 L476.43,315.96 L477.80,315.97 L479.17,315.96 L480.53,315.96 L481.90,315.97 L483.27,315.96 L484.64,315.94 L486.01,315.90 L487.38,315.85 L488.74,315.77 L490.11,315.69 L491.48,315.58 L492.85,315.47 L494.22,315.33 L495.59,315.18 L496.95,315.01 L498.32,314.83 L499.69,314.63 L501.06,314.42 L502.43,314.19 L503.79,313.93 L505.16,313.65 L506.53,313.34 L507.90,313.03 L509.27,312.70 L510.64,312.35 L512.00,311.98 L513.37,311.60 L514.74,311.21 L516.11,310.80 L517.48,310.37 L518.85,309.92 L520.21,309.47 L521.58,308.99 L522.95,308.50 L524.32,307.99 L525.69,307.47 L527.06,306.91 L528.42,306.34 L529.79,305.74 L531.16,305.13 L532.53,304.51 L533.90,303.87 L535.27,303.21 L536.63,302.54 L538.00,301.85 L539.37,301.14 L540.74,300.42 L542.11,299.68 L543.47,298.93 L544.84,298.16 L546.21,297.38 L547.58,296.58 L548.95,295.77 L550.32,294.93 L551.68,294.09 L553.05,293.22 L554.42,292.35 L555.79,291.45 L557.16,290.54 L558.53,289.62 L559.89,288.69 L561.26,287.74 L562.63,286.77 L564.00,285.79 L565.37,284.79 L566.74,283.77 L568.10,282.74 L569.47,281.70 L570.84,280.64 L572.21,279.56 L573.58,278.46 L574.95,277.35 L576.31,276.23 L577.68,275.09 L579.05,273.93 L580.42,272.76 L581.79,271.57 L583.15,270.36 L584.52,269.14 L585.89,267.91 L587.26,266.65 L588.63,265.39 L590.00,264.10 L591.36,262.80 L592.73,261.49 L594.10,260.16 L595.47,258.81 L596.84,257.45 L598.21,256.07 L599.57,254.68 L600.94,253.27 L602.31,251.85 L603.68,250.41 L605.05,248.96 L606.42,247.49 L607.78,246.00 L609.15,244.50 L610.52,242.98 L611.89,241.44 L613.26,239.89 L614.63,238.33 L615.99,236.74 L617.36,235.15 L618.73,233.53 L620.10,231.90 L621.47,230.26 L622.83,228.60 L624.20,226.92 L625.57,225.23 L626.94,223.52 L628.31,221.79 L629.68,220.05 L631.04,218.29 L632.41,216.52 L633.78,214.73 L635.15,212.94 L636.52,211.12 L637.89,209.29 L639.25,207.45 L640.62,205.59 L641.99,203.71 L643.36,201.82 L644.73,199.91 L646.10,197.98 L647.46,196.04 L648.83,194.09 L650.20,192.11 L651.57,190.13 L652.94,188.12 L654.31,186.10 L655.67,184.07 L657.04,182.01 L658.41,179.95 L659.78,177.86 L661.15,175.76 L662.51,173.65 L663.88,171.52 L665.25,169.37 L666.62,167.20 L667.99,165.03 L669.36,162.83 L670.72,160.62 L672.09,158.39 L673.46,156.15 L674.83,153.89 L676.20,151.61 L677.57,149.32 L678.93,147.02 L680.30,144.69 L681.67,142.36 L683.04,140.00 L684.41,137.63 L685.78,135.24 L687.14,132.84 L688.51,130.42 L689.88,127.99 L691.25,125.54 L692.62,123.07 L693.99,120.59 L695.35,118.09 L696.72,115.58 L698.09,113.05 L699.46,110.50 L700.83,107.94 L702.19,105.36 L703.56,102.77 L704.93,100.16 L706.30,97.53 L707.67,94.89 L709.04,92.23 L710.40,89.56 L711.77,86.87 L713.14,84.16 L714.51,81.44 L715.88,78.70 L717.25,75.95 L718.61,73.18 L719.98,70.39 L721.35,67.59 L722.72,64.77 L724.09,61.94 L725.46,59.09 L726.82,56.22 L728.19,53.34 L729.56,50.44 L730.93,47.53 L732.30,44.60 L733.67,41.65 L735.03,38.69 L736.40,35.71 L737.77,32.72 L739.14,29.71 L740.51,26.68 L741.87,23.64 L743.24,20.58 L744.61,17.51 L745.98,14.42 L747.35,11.31 L748.72,8.19 L750.08,5.05 L751.45,1.90 L752.82,-1.27 L747.90,-2.20 L746.56,0.94 L745.22,4.06 L743.87,7.16 L742.53,10.25 L741.18,13.32 L739.84,16.38 L738.50,19.42 L737.15,22.45 L735.81,25.46 L734.47,28.45 L733.12,31.43 L731.78,34.40 L730.44,37.34 L729.09,40.27 L727.75,43.19 L726.40,46.09 L725.06,48.97 L723.72,51.84 L722.37,54.69 L721.03,57.53 L719.69,60.35 L718.34,63.15 L717.00,65.94 L715.66,68.72 L714.31,71.47 L712.97,74.22 L711.62,76.94 L710.28,79.65 L708.94,82.35 L707.59,85.02 L706.25,87.69 L704.91,90.33 L703.56,92.96 L702.22,95.58 L700.88,98.18 L699.53,100.76 L698.19,103.33 L696.85,105.88 L695.50,108.42 L694.16,110.94 L692.81,113.44 L691.47,115.93 L690.13,118.40 L688.78,120.86 L687.44,123.30 L686.10,125.72 L684.75,128.13 L683.41,130.52 L682.07,132.90 L680.72,135.26 L679.38,137.61 L678.03,139.94 L676.69,142.25 L675.35,144.55 L674.00,146.83 L672.66,149.10 L671.32,151.35 L669.97,153.58 L668.63,155.80 L667.29,158.00 L665.94,160.19 L664.60,162.36 L663.25,164.51 L661.91,166.65 L660.57,168.78 L659.22,170.88 L657.88,172.97 L656.54,175.05 L655.19,177.11 L653.85,179.15 L652.51,181.18 L651.16,183.19 L649.82,185.19 L648.47,187.17 L647.13,189.13 L645.79,191.08 L644.44,193.01 L643.10,194.93 L641.76,196.83 L640.41,198.71 L639.07,200.58 L637.73,202.43 L636.38,204.27 L635.04,206.09 L633.69,207.90 L632.35,209.69 L631.01,211.47 L629.66,213.24 L628.32,214.98 L626.98,216.72 L625.63,218.43 L624.29,220.13 L622.95,221.82 L621.60,223.49 L620.26,225.14 L618.91,226.78 L617.57,228.40 L616.23,230.00 L614.88,231.59 L613.54,233.16 L612.20,234.72 L610.85,236.26 L609.51,237.78 L608.17,239.29 L606.82,240.79 L605.48,242.26 L604.14,243.72 L602.79,245.17 L601.45,246.60 L600.10,248.01 L598.76,249.41 L597.42,250.79 L596.07,252.16 L594.73,253.51 L593.39,254.84 L592.04,256.16 L590.70,257.47 L589.36,258.76 L588.01,260.03 L586.67,261.32 L585.32,262.60 L583.98,263.88 L582.64,265.13 L581.29,266.37 L579.95,267.59 L578.61,268.80 L577.26,269.99 L575.92,271.16 L574.58,272.32 L573.23,273.46 L571.89,274.59 L570.54,275.70 L569.20,276.79 L567.86,277.87 L566.51,278.93 L565.17,279.97 L563.83,281.00 L562.48,282.01 L561.14,283.01 L559.80,283.99 L558.45,284.96 L557.11,285.91 L555.76,286.82 L554.42,287.70 L553.08,288.57 L551.73,289.43 L550.39,290.27 L549.05,291.09 L547.70,291.90 L546.36,292.69 L545.02,293.46 L543.67,294.22 L542.33,294.97 L540.98,295.69 L539.64,296.41 L538.30,297.10 L536.95,297.79 L535.61,298.45 L534.27,299.10 L532.92,299.74 L531.58,300.36 L530.24,300.96 L528.89,301.55 L527.55,302.12 L526.20,302.68 L524.86,303.20 L523.52,303.71 L522.17,304.21 L520.83,304.68 L519.49,305.15 L518.14,305.59 L516.80,306.02 L515.46,306.44 L514.11,306.84 L512.77,307.22 L511.43,307.59 L510.08,307.94 L508.74,308.28 L507.39,308.60 L506.05,308.91 L504.71,309.20 L503.36,309.47 L502.02,309.72 L500.68,309.94 L499.33,310.14 L497.99,310.33 L496.65,310.50 L495.30,310.66 L493.96,310.80 L492.61,310.93 L491.27,311.04 L489.93,311.14 L488.58,311.22 L487.24,311.28 L485.90,311.33 L484.55,311.36 L483.21,311.38 L481.87,311.38 L480.52,311.36 L479.18,311.36 L477.83,311.38 L476.49,311.38 L475.15,311.36 L473.80,311.33 L472.46,311.28 L471.12,311.22 L469.77,311.14 L468.43,311.04 L467.09,310.93 L465.74,310.80 L464.40,310.66 L463.05,310.50 L461.71,310.33 L460.37,310.14 L459.02,309.94 L457.68,309.72 L456.34,309.47 L454.99,309.20 L453.65,308.91 L452.31,308.60 L450.96,308.28 L449.62,307.94 L448.27,307.59 L446.93,307.22 L445.59,306.84 L444.24,306.44 L442.90,306.02 L441.56,305.59 L440.21,305.15 L438.87,304.68 L437.53,304.21 L436.18,303.71 L434.84,303.20 L433.50,302.68 L432.15,302.12 L430.81,301.55 L429.46,300.96 L428.12,300.36 L426.78,299.74 L425.43,299.10 L424.09,298.45 L422.75,297.79 L421.40,297.10 L420.06,296.41 L418.72,295.69 L417.37,294.97 L416.03,294.22 L414.68,293.46 L413.34,292.69 L412.00,291.90 L410.65,291.09 L409.31,290.27 L407.97,289.43 L406.62,288.57 L405.28,287.70 L403.94,286.82 L402.59,285.91 L401.25,284.96 L399.90,283.99 L398.56,283.01 L397.22,282.01 L395.87,281.00 L394.53,279.97 L393.19,278.93 L391.84,277.87 L390.50,276.79 L389.16,275.70 L387.81,274.59 L386.47,273.46 L385.12,272.32 L383.78,271.16 L382.44,269.99 L381.09,268.80 L379.75,267.59 L378.41,266.37 L377.06,265.13 L375.72,263.88 L374.38,262.60 L373.03,261.32 L371.69,260.03 L370.34,258.76 L369.00,257.47 L367.66,256.16 L366.31,254.84 L364.97,253.51 L363.63,252.16 L362.28,250.79 L360.94,249.41 L359.60,248.01 L358.25,246.60 L356.91,245.17 L355.56,243.72 L354.22,242.26 L352.88,240.79 L351.53,239.29 L350.19,237.78 L348.85,236.26 L347.50,234.72 L346.16,233.16 L344.82,231.59 L343.47,230.00 L342.13,228.40 L340.79,226.78 L339.44,225.14 L338.10,223.49 L336.75,221.82 L335.41,220.13 L334.07,218.43 L332.72,216.72 L331.38,214.98 L330.04,213.24 L328.69,211.47 L327.35,209.69 L326.01,207.90 L324.66,206.09 L323.32,204.27 L321.97,202.43 L320.63,200.58 L319.29,198.71 L317.94,196.83 L316.60,194.93 L315.26,193.01 L313.91,191.08 L312.57,189.13 L311.23,187.17 L309.88,185.19 L308.54,183.19 L307.19,181.18 L305.85,179.15 L304.51,177.11 L303.16,175.05 L301.82,172.97 L300.48,170.88 L299.13,168.78 L297.79,166.65 L296.45,164.51 L295.10,162.36 L293.76,160.19 L292.41,158.00 L291.07,155.80 L289.73,153.58 L288.38,151.35 L287.04,149.10 L285.70,146.83 L284.35,144.55 L283.01,142.25 L281.67,139.94 L280.32,137.61 L278.98,135.26 L277.63,132.90 L276.29,130.52 L274.95,128.13 L273.60,125.72 L272.26,123.30 L270.92,120.86 L269.57,118.40 L268.23,115.93 L266.89,113.44 L265.54,110.94 L264.20,108.42 L262.85,105.88 L261.51,103.33 L260.17,100.76 L258.82,98.18 L257.48,95.58 L256.14,92.96 L254.79,90.33 L253.45,87.69 L252.11,85.02 L250.76,82.35 L249.42,79.65 L248.08,76.94 L246.73,74.22 L245.39,71.47 L244.04,68.72 L242.70,65.94 L241.36,63.15 L240.01,60.35 L238.67,57.53 L237.33,54.69 L235.98,51.84 L234.64,48.97 L233.30,46.09 L231.95,43.19 L230.61,40.27 L229.26,37.34 L227.92,34.40 L226.58,31.43 L225.23,28.45 L223.89,25.46 L222.55,22.45 L221.20,19.42 L219.86,16.38 L218.52,13.32 L217.17,10.25 L215.83,7.16 L214.48,4.06 L213.14,0.94 L211.80,-2.20 Z" fill="#fe6100" stroke="none"/>
<path d="M211.72,-1.18 L213.06,1.96 L214.41,5.08 L215.75,8.19 L217.10,11.28 L218.44,14.35 L219.78,17.41 L221.13,20.46 L222.47,23.48 L223.82,26.50 L225.16,29.49 L226.50,32.47 L227.85,35.44 L229.19,38.39 L230.54,41.32 L231.88,44.24 L233.22,47.14 L234.57,50.02 L235.91,52.89 L237.26,55.75 L238.60,58.58 L239.94,61.41 L241.29,64.21 L242.63,67.00 L243.98,69.78 L245.32,72.54 L246.66,75.28 L248.01,78.01 L249.35,80.72 L250.70,83.41 L252.04,86.09 L253.38,88.76 L254.73,91.41 L256.07,94.04 L257.42,96.65 L258.76,99.26 L260.10,101.84 L261.45,104.41 L262.79,106.96 L264.14,109.50 L265.48,112.02 L266.82,114.53 L268.17,117.02 L269.51,119.49 L270.86,121.95 L272.20,124.39 L273.54,126.82 L274.89,129.23 L276.23,131.62 L277.58,134.00 L278.92,136.36 L280.26,138.71 L281.61,141.04 L282.95,143.35 L284.30,145.65 L285.64,147.94 L286.98,150.20 L288.33,152.46 L289.67,154.69 L291.02,156.91 L292.36,159.11 L293.70,161.30 L295.05,163.47 L296.39,165.63 L297.74,167.77 L299.08,169.89 L300.42,172.00 L301.77,174.10 L303.11,176.17 L304.46,178.23 L305.80,180.28 L307.14,182.31 L308.49,184.32 L309.83,186.32 L311.18,188.30 L312.52,190.26 L313.86,192.21 L315.21,194.15 L316.55,196.06 L317.90,197.96 L319.24,199.85 L320.59,201.72 L321.93,203.57 L323.27,205.41 L324.62,207.23 L325.96,209.04 L327.31,210.83 L328.65,212.62 L329.99,214.38 L331.34,216.13 L332.68,217.86 L334.03,219.58 L335.37,221.28 L336.71,222.97 L338.06,224.64 L339.40,226.29 L340.75,227.93 L342.09,229.55 L343.43,231.15 L344.78,232.74 L346.12,234.32 L347.47,235.88 L348.81,237.42 L350.15,238.94 L351.50,240.45 L352.84,241.95 L354.19,243.42 L355.53,244.89 L356.87,246.33 L358.22,247.76 L359.56,249.18 L360.91,250.57 L362.25,251.96 L363.59,253.32 L364.94,254.67 L366.28,256.01 L367.63,257.33 L368.97,258.64 L370.31,259.93 L371.66,261.20 L373.00,262.46 L374.35,263.70 L375.69,264.93 L377.03,266.14 L378.38,267.33 L379.72,268.51 L381.07,269.67 L382.41,270.82 L383.75,271.95 L385.10,273.06 L386.44,274.16 L387.79,275.24 L389.13,276.31 L390.47,277.36 L391.82,278.39 L393.16,279.41 L394.51,280.41 L395.85,281.40 L397.19,282.37 L398.54,283.32 L399.88,284.26 L401.23,285.18 L402.57,286.09 L403.91,286.98 L405.26,287.86 L406.60,288.73 L407.95,289.58 L409.29,290.41 L410.63,291.23 L411.98,292.03 L413.32,292.81 L414.67,293.58 L416.01,294.34 L417.35,295.07 L418.70,295.79 L420.04,296.50 L421.39,297.19 L422.73,297.86 L424.07,298.52 L425.42,299.16 L426.76,299.78 L428.11,300.39 L429.45,300.99 L430.79,301.56 L432.14,302.12 L433.48,302.67 L434.83,303.18 L436.17,303.67 L437.51,304.14 L438.86,304.60 L440.20,305.04 L441.55,305.47 L442.89,305.88 L444.23,306.27 L445.58,306.65 L446.92,307.01 L448.27,307.35 L449.61,307.68 L450.95,308.00 L452.30,308.29 L453.64,308.58 L454.99,308.84 L456.33,309.09 L457.67,309.31 L459.02,309.50 L460.36,309.68 L461.71,309.84 L463.05,309.99 L464.39,310.12 L465.74,310.23 L467.08,310.33 L468.43,310.41 L469.77,310.48 L471.11,310.53 L472.46,310.56 L473.80,310.58 L475.15,310.58 L476.49,310.57 L477.83,310.54 L479.18,310.49 L480.52,310.49 L481.87,310.54 L483.21,310.57 L484.55,310.58 L485.90,310.58 L487.24,310.56 L488.59,310.53 L489.93,310.48 L491.27,310.41 L492.62,310.33 L493.96,310.23 L495.31,310.12 L496.65,309.99 L497.99,309.84 L499.34,309.68 L500.68,309.50 L502.03,309.31 L503.37,309.09 L504.71,308.84 L506.06,308.58 L507.40,308.29 L508.75,308.00 L510.09,307.68 L511.43,307.35 L512.78,307.01 L514.12,306.65 L515.47,306.27 L516.81,305.88 L518.15,305.47 L519.50,305.04 L520.84,304.60 L522.19,304.14 L523.53,303.67 L524.87,303.18 L526.22,302.67 L527.56,302.12 L528.91,301.56 L530.25,300.99 L531.59,300.39 L532.94,299.78 L534.28,299.16 L535.63,298.52 L536.97,297.86 L538.31,297.19 L539.66,296.50 L541.00,295.79 L542.35,295.07 L543.69,294.34 L545.03,293.58 L546.38,292.81 L547.72,292.03 L549.07,291.23 L550.41,290.41 L551.75,289.58 L553.10,288.73 L554.44,287.86 L555.79,286.98 L557.13,286.09 L558.47,285.18 L559.82,284.26 L561.16,283.32 L562.51,282.37 L563.85,281.40 L565.19,280.41 L566.54,279.41 L567.88,278.39 L569.23,277.36 L570.57,276.31 L571.91,275.24 L573.26,274.16 L574.60,273.06 L575.95,271.95 L577.29,270.82 L578.63,269.67 L579.98,268.51 L581.32,267.33 L582.67,266.14 L584.01,264.93 L585.35,263.70 L586.70,262.46 L588.04,261.20 L589.39,259.93 L590.73,258.64 L592.07,257.33 L593.42,256.01 L594.76,254.67 L596.11,253.32 L597.45,251.96 L598.79,250.57 L600.14,249.18 L601.48,247.76 L602.83,246.33 L604.17,244.89 L605.51,243.42 L606.86,241.95 L608.20,240.45 L609.55,238.94 L610.89,237.42 L612.23,235.88 L613.58,234.32 L614.92,232.74 L616.27,231.15 L617.61,229.55 L618.95,227.93 L620.30,226.29 L621.64,224.64 L622.99,222.97 L624.33,221.28 L625.67,219.58 L627.02,217.86 L628.36,216.13 L629.71,214.38 L631.05,212.62 L632.39,210.83 L633.74,209.04 L635.08,207.23 L636.43,205.41 L637.77,203.57 L639.11,201.72 L640.46,199.85 L641.80,197.96 L643.15,196.06 L644.49,194.15 L645.84,192.21 L647.18,190.26 L648.52,188.30 L649.87,186.32 L651.21,184.32 L652.56,182.31 L653.90,180.28 L655.24,178.23 L656.59,176.17 L657.93,174.10 L659.28,172.00 L660.62,169.89 L661.96,167.77 L663.31,165.63 L664.65,163.47 L666.00,161.30 L667.34,159.11 L668.68,156.91 L670.03,154.69 L671.37,152.46 L672.72,150.20 L674.06,147.94 L675.40,145.65 L676.75,143.35 L678.09,141.04 L679.44,138.71 L680.78,136.36 L682.12,134.00 L683.47,131.62 L684.81,129.23 L686.16,126.82 L687.50,124.39 L688.84,121.95 L690.19,119.49 L691.53,117.02 L692.88,114.53 L694.22,112.02 L695.56,109.50 L696.91,106.96 L698.25,104.41 L699.60,101.84 L700.94,99.26 L702.28,96.65 L703.63,94.04 L704.97,91.41 L706.32,88.76 L707.66,86.09 L709.00,83.41 L710.35,80.72 L711.69,78.01 L713.04,75.28 L714.38,72.54 L715.72,69.78 L717.07,67.00 L718.41,64.21 L719.76,61.41 L721.10,58.58 L722.44,55.75 L723.79,52.89 L725.13,50.02 L726.48,47.14 L727.82,44.24 L729.16,41.32 L730.51,38.39 L731.85,35.44 L733.20,32.47 L734.54,29.49 L735.88,26.50 L737.23,23.48 L738.57,20.46 L739.92,17.41 L741.26,14.35 L742.60,11.28 L743.95,8.19 L745.29,5.08 L746.64,1.96 L747.98,-1.18 L741.37,-1.11 L740.06,1.88 L738.75,4.87 L737.44,7.84 L736.13,10.79 L734.82,13.74 L733.51,16.66 L732.19,19.58 L730.88,22.48 L729.57,25.36 L728.26,28.24 L726.95,31.10 L725.64,33.94 L724.33,36.77 L723.02,39.59 L721.71,42.39 L720.40,45.17 L719.09,47.95 L717.77,50.71 L716.46,53.45 L715.15,56.18 L713.84,58.90 L712.53,61.60 L711.22,64.29 L709.91,66.97 L708.60,69.63 L707.29,72.27 L705.98,74.90 L704.67,77.52 L703.36,80.12 L702.04,82.71 L700.73,85.28 L699.42,87.84 L698.11,90.39 L696.80,92.92 L695.49,95.44 L694.18,97.94 L692.87,100.43 L691.56,102.90 L690.25,105.36 L688.94,107.80 L687.62,110.23 L686.31,112.65 L685.00,115.05 L683.69,117.43 L682.38,119.80 L681.07,122.16 L679.76,124.50 L678.45,126.83 L677.14,129.14 L675.83,131.44 L674.52,133.72 L673.20,135.99 L671.89,138.25 L670.58,140.49 L669.27,142.71 L667.96,144.92 L666.65,147.12 L665.34,149.30 L664.03,151.46 L662.72,153.61 L661.41,155.75 L660.10,157.87 L658.79,159.98 L657.47,162.07 L656.16,164.15 L654.85,166.21 L653.54,168.26 L652.23,170.29 L650.92,172.31 L649.61,174.31 L648.30,176.30 L646.99,178.27 L645.68,180.23 L644.37,182.17 L643.05,184.10 L641.74,186.01 L640.43,187.91 L639.12,189.80 L637.81,191.66 L636.50,193.52 L635.19,195.35 L633.88,197.18 L632.57,198.99 L631.26,200.78 L629.95,202.56 L628.63,204.32 L627.32,206.07 L626.01,207.80 L624.70,209.52 L623.39,211.22 L622.08,212.91 L620.77,214.58 L619.46,216.24 L618.15,217.88 L616.84,219.51 L615.53,221.12 L614.22,222.71 L612.90,224.30 L611.59,225.86 L610.28,227.41 L608.97,228.95 L607.66,230.47 L606.35,231.97 L605.04,233.46 L603.73,234.94 L602.42,236.40 L601.11,237.84 L599.80,239.27 L598.48,240.69 L597.17,242.08 L595.86,243.47 L594.55,244.84 L593.24,246.19 L591.93,247.52 L590.62,248.85 L589.31,250.15 L588.00,251.44 L586.69,252.72 L585.38,253.98 L584.06,255.23 L582.75,256.46 L581.44,257.67 L580.13,258.87 L578.82,260.05 L577.51,261.22 L576.20,262.37 L574.89,263.51 L573.58,264.63 L572.27,265.74 L570.96,266.83 L569.65,267.91 L568.33,268.97 L567.02,270.01 L565.71,271.04 L564.40,272.05 L563.09,273.05 L561.78,274.03 L560.47,275.00 L559.16,275.95 L557.85,276.89 L556.54,277.81 L555.23,278.72 L553.91,279.61 L552.60,280.48 L551.29,281.34 L549.98,282.18 L548.67,283.01 L547.36,283.82 L546.05,284.62 L544.74,285.40 L543.43,286.17 L542.12,286.92 L540.81,287.65 L539.50,288.37 L538.18,289.07 L536.87,289.76 L535.56,290.43 L534.25,291.09 L532.94,291.73 L531.63,292.35 L530.32,292.96 L529.01,293.56 L527.70,294.14 L526.39,294.70 L525.08,295.25 L523.76,295.78 L522.45,296.30 L521.14,296.80 L519.83,297.28 L518.52,297.75 L517.21,298.20 L515.90,298.64 L514.59,299.07 L513.28,299.47 L511.97,299.86 L510.66,300.24 L509.34,300.60 L508.03,300.94 L506.72,301.27 L505.41,301.59 L504.10,301.88 L502.79,302.16 L501.48,302.43 L500.17,302.68 L498.86,302.92 L497.55,303.14 L496.24,303.34 L494.93,303.53 L493.61,303.70 L492.30,303.86 L490.99,304.00 L489.68,304.12 L488.37,304.23 L487.06,304.33 L485.75,304.40 L484.44,304.47 L483.13,304.51 L481.82,304.54 L480.51,304.56 L479.19,304.56 L477.88,304.54 L476.57,304.51 L475.26,304.47 L473.95,304.40 L472.64,304.33 L471.33,304.23 L470.02,304.12 L468.71,304.00 L467.40,303.86 L466.09,303.70 L464.77,303.53 L463.46,303.34 L462.15,303.14 L460.84,302.92 L459.53,302.68 L458.22,302.43 L456.91,302.16 L455.60,301.88 L454.29,301.59 L452.98,301.27 L451.67,300.94 L450.36,300.60 L449.04,300.24 L447.73,299.86 L446.42,299.47 L445.11,299.07 L443.80,298.64 L442.49,298.20 L441.18,297.75 L439.87,297.28 L438.56,296.80 L437.25,296.30 L435.94,295.78 L434.62,295.25 L433.31,294.70 L432.00,294.14 L430.69,293.56 L429.38,292.96 L428.07,292.35 L426.76,291.73 L425.45,291.09 L424.14,290.43 L422.83,289.76 L421.52,289.07 L420.20,288.37 L418.89,287.65 L417.58,286.92 L416.27,286.17 L414.96,285.40 L413.65,284.62 L412.34,283.82 L411.03,283.01 L409.72,282.18 L408.41,281.34 L407.10,280.48 L405.79,279.61 L404.47,278.72 L403.16,277.81 L401.85,276.89 L400.54,275.95 L399.23,275.00 L397.92,274.03 L396.61,273.05 L395.30,272.05 L393.99,271.04 L392.68,270.01 L391.37,268.97 L390.05,267.91 L388.74,266.83 L387.43,265.74 L386.12,264.63 L384.81,263.51 L383.50,262.37 L382.19,261.22 L380.88,260.05 L379.57,258.87 L378.26,257.67 L376.95,256.46 L375.64,255.23 L374.32,253.98 L373.01,252.72 L371.70,251.44 L370.39,250.15 L369.08,248.85 L367.77,247.52 L366.46,246.19 L365.15,244.84 L363.84,243.47 L362.53,242.08 L361.22,240.69 L359.90,239.27 L358.59,237.84 L357.28,236.40 L355.97,234.94 L354.66,233.46 L353.35,231.97 L352.04,230.47 L350.73,228.95 L349.42,227.41 L348.11,225.86 L346.80,224.30 L345.48,222.71 L344.17,221.12 L342.86,219.51 L341.55,217.88 L340.24,216.24 L338.93,214.58 L337.62,212.91 L336.31,211.22 L335.00,209.52 L333.69,207.80 L332.38,206.07 L331.07,204.32 L329.75,202.56 L328.44,200.78 L327.13,198.99 L325.82,197.18 L324.51,195.35 L323.20,193.52 L321.89,191.66 L320.58,189.80 L319.27,187.91 L317.96,186.01 L316.65,184.10 L315.33,182.17 L314.02,180.23 L312.71,178.27 L311.40,176.30 L310.09,174.31 L308.78,172.31 L307.47,170.29 L306.16,168.26 L304.85,166.21 L303.54,164.15 L302.23,162.07 L300.91,159.98 L299.60,157.87 L298.29,155.75 L296.98,153.61 L295.67,151.46 L294.36,149.30 L293.05,147.12 L291.74,144.92 L290.43,142.71 L289.12,140.49 L287.81,138.25 L286.50,135.99 L285.18,133.72 L283.87,131.44 L282.56,129.14 L281.25,126.83 L279.94,124.50 L278.63,122.16 L277.32,119.80 L276.01,117.43 L274.70,115.05 L273.39,112.65 L272.08,110.23 L270.76,107.80 L269.45,105.36 L268.14,102.90 L266.83,100.43 L265.52,97.94 L264.21,95.44 L262.90,92.92 L261.59,90.39 L260.28,87.84 L258.97,85.28 L257.66,82.71 L256.34,80.12 L255.03,77.52 L253.72,74.90 L252.41,72.27 L251.10,69.63 L249.79,66.97 L248.48,64.29 L247.17,61.60 L245.86,58.90 L244.55,56.18 L243.24,53.45 L241.93,50.71 L240.61,47.95 L239.30,45.17 L237.99,42.39 L236.68,39.59 L235.37,36.77 L234.06,33.94 L232.75,31.10 L231.44,28.24 L230.13,25.36 L228.82,22.48 L227.51,19.58 L226.19,16.66 L224.88,13.74 L223.57,10.79 L222.26,7.84 L220.95,4.87 L219.64,1.88 L218.33,-1.11 Z" fill="#ffb000" stroke="none"/>
</g>
<g stroke="#000" stroke-width="1.1" fill="none" stroke-linecap="butt">
<path d="M95.1,593.55 H864.95 M864.4,594.1 V13.0 M95.1,13.55 H864.95"/>
<path d="M95.75,13.0 V594.1" stroke-width="1.3"/>
<path d="M91.0,593.55 H95.5 M91.0,521.05 H95.5 M91.0,448.55 H95.5 M91.0,376.05 H95.5 M91.0,303.55 H95.5 M91.0,231.05 H95.5 M91.0,158.55 H95.5 M91.0,86.05 H95.5 M91.0,13.55 H95.5 M95.90,594.0 V598.4 M288.02,594.0 V598.4 M480.15,594.0 V598.4 M672.27,594.0 V598.4 M864.40,594.0 V598.4"/>
</g>
<g style="filter:grayscale(1)" stroke="#000" stroke-width="0.35">
<text transform="translate(37.35,599.50) scale(0.9630,1)" font-size="28.60">0.52</text>
<text transform="translate(37.35,527.00) scale(0.9630,1)" font-size="28.60">0.53</text>
<text transform="translate(37.35,454.50) scale(0.9630,1)" font-size="28.60">0.54</text>
<text transform="translate(37.35,382.00) scale(0.9630,1)" font-size="28.60">0.55</text>
<text transform="translate(37.35,309.50) scale(0.9630,1)" font-size="28.60">0.56</text>
<text transform="translate(37.35,237.00) scale(0.9630,1)" font-size="28.60">0.57</text>
<text transform="translate(37.35,164.50) scale(0.9630,1)" font-size="28.60">0.58</text>
<text transform="translate(37.35,92.00) scale(0.9630,1)" font-size="28.60">0.59</text>
<text transform="translate(37.35,19.50) scale(0.9630,1)" font-size="28.60">0.60</text>
<text transform="translate(81.05,621.80) scale(0.9609,1)" font-size="28.60">0.50</text>
<path d="M63.30,614.50 H78.80" stroke="#000" stroke-width="1.4" stroke-linecap="round"/>
<text transform="translate(273.36,621.80) scale(0.9531,1)" font-size="28.60">0.25</text>
<path d="M255.60,614.50 H271.10" stroke="#000" stroke-width="1.4" stroke-linecap="round"/>
<text transform="translate(471.82,621.80) scale(0.9900,1)" font-size="28.60">0</text>
<text transform="translate(646.86,621.80) scale(0.9552,1)" font-size="28.60">0.25</text>
<text transform="translate(839.35,621.80) scale(0.9609,1)" font-size="28.60">0.50</text>
<text transform="translate(422.17,655.10) scale(1.0299,1)" font-size="28.60" font-style="italic">Q</text>
<text x="453.04" y="655.10" font-size="28.60">(</text>
<text transform="translate(462.73,655.10) scale(1.0157,1)" font-size="28.60">nm</text>
<path d="M502.00,639.70 H512.90" stroke="#000" stroke-width="1.0" stroke-linecap="round"/>
<text transform="translate(514.53,645.50) scale(1.0752,1)" font-size="17.70">1</text>
<text x="524.83" y="655.10" font-size="28.60">)</text>
<text transform="translate(20.70,0) rotate(-90) translate(-348.43,0) scale(1.0257,1)" font-size="28.60" font-style="italic">ε</text>
<text transform="translate(24.50,0) rotate(-90) translate(-335.62,0) scale(1.1271,1)" font-size="20.10" font-style="italic" font-weight="bold">Q</text>
<text transform="translate(20.70,0) rotate(-90) translate(-307.36,0) scale(1.0000,1)" font-size="28.60">(</text>
<text transform="translate(20.70,0) rotate(-90) translate(-299.30,0) scale(0.9825,1)" font-size="28.60">e</text>
<text transform="translate(20.70,0) rotate(-90) translate(-286.91,0) scale(0.9544,1)" font-size="28.60">V</text>
<text transform="translate(20.70,0) rotate(-90) translate(-266.72,0) scale(1.0000,1)" font-size="28.60">)</text>
<text transform="translate(780.04,507.90) scale(1.3051,1)" font-size="27.00" font-style="italic" stroke-width="0.1">n</text>
<path d="M805.90,498.35 H822.90" stroke="#000" stroke-width="1.05" stroke-linecap="round"/>
<path d="M805.90,503.40 H822.90" stroke="#000" stroke-width="1.05" stroke-linecap="round"/>
<text transform="translate(831.50,508.00) scale(1.0242,1)" font-size="28.60">3</text>
<text transform="translate(780.04,530.37) scale(1.3051,1)" font-size="27.00" font-style="italic" stroke-width="0.1">n</text>
<path d="M805.90,520.82 H822.90" stroke="#000" stroke-width="1.05" stroke-linecap="round"/>
<path d="M805.90,525.87 H822.90" stroke="#000" stroke-width="1.05" stroke-linecap="round"/>
<text transform="translate(831.57,530.47) scale(1.0554,1)" font-size="28.60">2</text>
<text transform="translate(780.04,552.84) scale(1.3051,1)" font-size="27.00" font-style="italic" stroke-width="0.1">n</text>
<path d="M805.90,543.29 H822.90" stroke="#000" stroke-width="1.05" stroke-linecap="round"/>
<path d="M805.90,548.34 H822.90" stroke="#000" stroke-width="1.05" stroke-linecap="round"/>
<text transform="translate(831.60,552.94) scale(0.9932,1)" font-size="28.60">1</text>
<text transform="translate(780.04,575.31) scale(1.3051,1)" font-size="27.00" font-style="italic" stroke-width="0.1">n</text>
<path d="M805.90,565.76 H822.90" stroke="#000" stroke-width="1.05" stroke-linecap="round"/>
<path d="M805.90,570.81 H822.90" stroke="#000" stroke-width="1.05" stroke-linecap="round"/>
<text transform="translate(831.81,575.41) scale(0.9982,1)" font-size="28.60">0</text>
</g>
<g style="filter:grayscale(0)">
<path d="M722,502.40 H773" stroke="#ffb000" stroke-width="2.5"/>
<path d="M722,524.87 H773" stroke="#fe6100" stroke-width="2.5"/>
<path d="M722,547.34 H773" stroke="#dc267f" stroke-width="2.5"/>
<path d="M722,569.81 H773" stroke="#785ef0" stroke-width="2.5"/>
</g>
</svg>
</body></html>
